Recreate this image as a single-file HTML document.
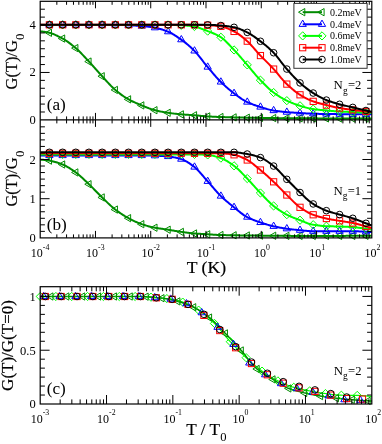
<!DOCTYPE html>
<html><head><meta charset="utf-8"><title>G(T) plot</title>
<style>html,body{margin:0;padding:0;background:#fff;}svg{display:block;will-change:transform;}text{font-family:"Liberation Serif",serif;}</style></head>
<body>
<svg width="382" height="444" viewBox="0 0 382 444">
<rect width="382" height="444" fill="#fff"/>
<g>
<polyline points="40.2,31.4 41.2,31.45 42.2,31.54 43.2,31.65 44.2,31.79 45.2,31.95 46.2,32.13 47.2,32.32 48.2,32.52 49.2,32.73 50.2,32.99 51.2,33.29 52.2,33.62 53.2,34 54.2,34.4 55.2,34.83 56.2,35.29 57.2,35.77 58.2,36.27 59.2,36.78 60.2,37.3 61.2,37.82 62.2,38.35 63.2,38.91 64.2,39.49 65.2,40.11 66.2,40.76 67.2,41.43 68.2,42.14 69.2,42.86 70.2,43.61 71.2,44.38 72.2,45.17 73.2,45.97 74.2,46.79 75.2,47.62 76.2,48.47 77.2,49.37 78.2,50.3 79.2,51.27 80.2,52.27 81.2,53.29 82.2,54.33 83.2,55.39 84.2,56.46 85.2,57.53 86.2,58.6 87.2,59.66 88.2,60.72 89.2,61.8 90.2,62.89 91.2,63.99 92.2,65.11 93.2,66.23 94.2,67.36 95.2,68.49 96.2,69.63 97.2,70.76 98.2,71.88 99.2,73 100.2,74.1 101.2,75.19 102.2,76.28 103.2,77.38 104.2,78.5 105.2,79.61 106.2,80.73 107.2,81.84 108.2,82.93 109.2,84.01 110.2,85.06 111.2,86.09 112.2,87.08 113.2,88.03 114.2,88.94 115.2,89.8 116.2,90.65 117.2,91.48 118.2,92.29 119.2,93.08 120.2,93.86 121.2,94.61 122.2,95.34 123.2,96.05 124.2,96.73 125.2,97.38 126.2,98.01 127.2,98.61 128.2,99.18 129.2,99.73 130.2,100.26 131.2,100.77 132.2,101.26 133.2,101.74 134.2,102.2 135.2,102.65 136.2,103.09 137.2,103.52 138.2,103.95 139.2,104.37 140.2,104.79 141.2,105.2 142.2,105.62 143.2,106.03 144.2,106.45 145.2,106.86 146.2,107.27 147.2,107.67 148.2,108.05 149.2,108.43 150.2,108.78 151.2,109.12 152.2,109.44 153.2,109.74 154.2,110.01 155.2,110.26 156.2,110.51 157.2,110.75 158.2,110.98 159.2,111.2 160.2,111.41 161.2,111.61 162.2,111.81 163.2,112 164.2,112.18 165.2,112.35 166.2,112.51 167.2,112.67 168.2,112.82 169.2,112.97 170.2,113.11 171.2,113.25 172.2,113.38 173.2,113.51 174.2,113.63 175.2,113.75 176.2,113.86 177.2,113.97 178.2,114.07 179.2,114.17 180.2,114.26 181.2,114.35 182.2,114.43 183.2,114.51 184.2,114.58 185.2,114.64 186.2,114.71 187.2,114.77 188.2,114.83 189.2,114.89 190.2,114.95 191.2,115.02 192.2,115.08 193.2,115.15 194.2,115.23 195.2,115.31 196.2,115.4 197.2,115.5 198.2,115.6 199.2,115.69 200.2,115.79 201.2,115.89 202.2,115.99 203.2,116.08 204.2,116.17 205.2,116.25 206.2,116.33 207.2,116.39 208.2,116.45 209.2,116.51 210.2,116.56 211.2,116.62 212.2,116.67 213.2,116.71 214.2,116.76 215.2,116.8 216.2,116.84 217.2,116.88 218.2,116.92 219.2,116.96 220.2,116.99 221.2,117.02 222.2,117.05 223.2,117.08 224.2,117.12 225.2,117.15 226.2,117.18 227.2,117.2 228.2,117.23 229.2,117.26 230.2,117.29 231.2,117.32 232.2,117.34 233.2,117.37 234.2,117.39 235.2,117.42 236.2,117.44 237.2,117.47 238.2,117.49 239.2,117.52 240.2,117.54 241.2,117.56 242.2,117.58 243.2,117.6 244.2,117.63 245.2,117.65 246.2,117.67 247.2,117.69 248.2,117.71 249.2,117.72 250.2,117.74 251.2,117.76 252.2,117.78 253.2,117.8 254.2,117.81 255.2,117.83 256.2,117.84 257.2,117.86 258.2,117.87 259.2,117.89 260.2,117.9 261.2,117.92 262.2,117.93 263.2,117.94 264.2,117.96 265.2,117.97 266.2,117.98 267.2,118 268.2,118.01 269.2,118.02 270.2,118.03 271.2,118.05 272.2,118.06 273.2,118.07 274.2,118.08 275.2,118.09 276.2,118.11 277.2,118.12 278.2,118.13 279.2,118.14 280.2,118.15 281.2,118.16 282.2,118.17 283.2,118.18 284.2,118.19 285.2,118.2 286.2,118.21 287.2,118.21 288.2,118.22 289.2,118.23 290.2,118.24 291.2,118.25 292.2,118.25 293.2,118.26 294.2,118.27 295.2,118.27 296.2,118.28 297.2,118.29 298.2,118.29 299.2,118.3 300.2,118.3 301.2,118.31 302.2,118.31 303.2,118.31 304.2,118.32 305.2,118.32 306.2,118.33 307.2,118.33 308.2,118.34 309.2,118.34 310.2,118.35 311.2,118.35 312.2,118.35 313.2,118.36 314.2,118.36 315.2,118.37 316.2,118.37 317.2,118.37 318.2,118.38 319.2,118.38 320.2,118.39 321.2,118.39 322.2,118.39 323.2,118.4 324.2,118.4 325.2,118.41 326.2,118.41 327.2,118.41 328.2,118.42 329.2,118.42 330.2,118.42 331.2,118.43 332.2,118.43 333.2,118.43 334.2,118.44 335.2,118.44 336.2,118.44 337.2,118.45 338.2,118.45 339.2,118.45 340.2,118.45 341.2,118.46 342.2,118.46 343.2,118.46 344.2,118.46 345.2,118.47 346.2,118.47 347.2,118.47 348.2,118.47 349.2,118.48 350.2,118.48 351.2,118.48 352.2,118.48 353.2,118.48 354.2,118.48 355.2,118.49 356.2,118.49 357.2,118.49 358.2,118.49 359.2,118.49 360.2,118.49 361.2,118.49 362.2,118.5 363.2,118.5 364.2,118.5 365.2,118.5 366.2,118.5 367.2,118.5 368.2,118.5 369.2,118.5 370.2,118.5 371.2,118.5 371.8,118.5" fill="none" stroke="#008b00" stroke-width="2.0" stroke-linejoin="round"/><path d="M45.2 32.78L51.5 29.14L51.5 36.42Z" fill="none" stroke="#008b00" stroke-width="1.0"/><path d="M58.39 38.56L64.69 34.93L64.69 42.2Z" fill="none" stroke="#008b00" stroke-width="1.0"/><path d="M71.58 48.11L77.88 44.47L77.88 51.74Z" fill="none" stroke="#008b00" stroke-width="1.0"/><path d="M84.77 61.55L91.07 57.91L91.07 65.19Z" fill="none" stroke="#008b00" stroke-width="1.0"/><path d="M97.96 76.24L104.26 72.6L104.26 79.87Z" fill="none" stroke="#008b00" stroke-width="1.0"/><path d="M111.15 89.93L117.45 86.29L117.45 93.57Z" fill="none" stroke="#008b00" stroke-width="1.0"/><path d="M124.34 99.37L130.64 95.73L130.64 103.01Z" fill="none" stroke="#008b00" stroke-width="1.0"/><path d="M137.53 105.42L143.83 101.78L143.83 109.06Z" fill="none" stroke="#008b00" stroke-width="1.0"/><path d="M150.72 110.19L157.02 106.55L157.02 113.83Z" fill="none" stroke="#008b00" stroke-width="1.0"/><path d="M163.91 112.81L170.21 109.17L170.21 116.44Z" fill="none" stroke="#008b00" stroke-width="1.0"/><path d="M177.1 114.36L183.4 110.72L183.4 118Z" fill="none" stroke="#008b00" stroke-width="1.0"/><path d="M190.29 115.25L196.59 111.62L196.59 118.89Z" fill="none" stroke="#008b00" stroke-width="1.0"/><path d="M203.48 116.42L209.78 112.79L209.78 120.06Z" fill="none" stroke="#008b00" stroke-width="1.0"/><path d="M216.67 117.01L222.97 113.37L222.97 120.65Z" fill="none" stroke="#008b00" stroke-width="1.0"/><path d="M229.86 117.39L236.16 113.75L236.16 121.03Z" fill="none" stroke="#008b00" stroke-width="1.0"/><path d="M243.05 117.69L249.35 114.05L249.35 121.32Z" fill="none" stroke="#008b00" stroke-width="1.0"/><path d="M256.24 117.91L262.54 114.27L262.54 121.54Z" fill="none" stroke="#008b00" stroke-width="1.0"/><path d="M269.43 118.08L275.73 114.44L275.73 121.71Z" fill="none" stroke="#008b00" stroke-width="1.0"/><path d="M282.62 118.21L288.92 114.57L288.92 121.85Z" fill="none" stroke="#008b00" stroke-width="1.0"/><path d="M295.81 118.3L302.11 114.66L302.11 121.94Z" fill="none" stroke="#008b00" stroke-width="1.0"/><path d="M309 118.36L315.3 114.72L315.3 122Z" fill="none" stroke="#008b00" stroke-width="1.0"/><path d="M322.19 118.41L328.49 114.77L328.49 122.05Z" fill="none" stroke="#008b00" stroke-width="1.0"/><path d="M335.38 118.45L341.68 114.81L341.68 122.09Z" fill="none" stroke="#008b00" stroke-width="1.0"/><path d="M348.57 118.48L354.87 114.85L354.87 122.12Z" fill="none" stroke="#008b00" stroke-width="1.0"/><path d="M361.76 118.5L368.06 114.86L368.06 122.14Z" fill="none" stroke="#008b00" stroke-width="1.0"/>
<polyline points="40.2,25 41.2,25 42.2,25 43.2,25 44.2,25 45.2,25 46.2,25 47.2,25 48.2,25 49.2,25 50.2,25 51.2,25 52.2,25 53.2,25 54.2,25 55.2,25 56.2,25 57.2,25 58.2,25 59.2,25 60.2,25 61.2,25 62.2,25 63.2,25 64.2,25 65.2,25 66.2,25 67.2,25 68.2,25 69.2,25 70.2,25 71.2,25 72.2,25 73.2,25 74.2,25 75.2,25 76.2,25 77.2,25 78.2,25 79.2,25 80.2,25 81.2,25 82.2,25 83.2,25 84.2,25 85.2,25 86.2,25 87.2,25 88.2,25 89.2,25 90.2,25 91.2,25 92.2,25 93.2,25 94.2,25 95.2,25 96.2,25 97.2,25 98.2,25 99.2,25 100.2,25 101.2,25 102.2,25 103.2,25 104.2,25 105.2,25 106.2,25 107.2,25 108.2,25 109.2,25 110.2,25 111.2,25 112.2,25 113.2,25 114.2,25 115.2,25 116.2,25 117.2,25 118.2,25 119.2,25 120.2,25.01 121.2,25.03 122.2,25.04 123.2,25.07 124.2,25.09 125.2,25.13 126.2,25.16 127.2,25.2 128.2,25.24 129.2,25.29 130.2,25.34 131.2,25.39 132.2,25.44 133.2,25.5 134.2,25.55 135.2,25.61 136.2,25.67 137.2,25.74 138.2,25.8 139.2,25.87 140.2,25.93 141.2,26 142.2,26.07 143.2,26.15 144.2,26.24 145.2,26.34 146.2,26.45 147.2,26.57 148.2,26.69 149.2,26.82 150.2,26.96 151.2,27.11 152.2,27.26 153.2,27.43 154.2,27.6 155.2,27.77 156.2,27.97 157.2,28.18 158.2,28.42 159.2,28.68 160.2,28.95 161.2,29.24 162.2,29.55 163.2,29.87 164.2,30.22 165.2,30.57 166.2,30.94 167.2,31.32 168.2,31.73 169.2,32.17 170.2,32.66 171.2,33.18 172.2,33.74 173.2,34.32 174.2,34.93 175.2,35.56 176.2,36.21 177.2,36.87 178.2,37.55 179.2,38.23 180.2,38.92 181.2,39.62 182.2,40.33 183.2,41.07 184.2,41.82 185.2,42.59 186.2,43.39 187.2,44.21 188.2,45.05 189.2,45.92 190.2,46.8 191.2,47.72 192.2,48.65 193.2,49.61 194.2,50.6 195.2,51.65 196.2,52.76 197.2,53.92 198.2,55.13 199.2,56.37 200.2,57.64 201.2,58.92 202.2,60.21 203.2,61.5 204.2,62.78 205.2,64.05 206.2,65.28 207.2,66.48 208.2,67.66 209.2,68.85 210.2,70.04 211.2,71.23 212.2,72.42 213.2,73.6 214.2,74.76 215.2,75.91 216.2,77.05 217.2,78.16 218.2,79.24 219.2,80.29 220.2,81.3 221.2,82.28 222.2,83.25 223.2,84.19 224.2,85.12 225.2,86.03 226.2,86.92 227.2,87.79 228.2,88.65 229.2,89.49 230.2,90.31 231.2,91.12 232.2,91.91 233.2,92.69 234.2,93.45 235.2,94.21 236.2,94.96 237.2,95.71 238.2,96.45 239.2,97.17 240.2,97.88 241.2,98.56 242.2,99.23 243.2,99.86 244.2,100.46 245.2,101.02 246.2,101.55 247.2,102.04 248.2,102.51 249.2,102.95 250.2,103.38 251.2,103.79 252.2,104.19 253.2,104.57 254.2,104.94 255.2,105.3 256.2,105.65 257.2,105.98 258.2,106.32 259.2,106.64 260.2,106.96 261.2,107.28 262.2,107.6 263.2,107.91 264.2,108.22 265.2,108.53 266.2,108.82 267.2,109.11 268.2,109.38 269.2,109.63 270.2,109.88 271.2,110.1 272.2,110.3 273.2,110.48 274.2,110.65 275.2,110.8 276.2,110.95 277.2,111.09 278.2,111.22 279.2,111.35 280.2,111.47 281.2,111.58 282.2,111.69 283.2,111.79 284.2,111.89 285.2,111.98 286.2,112.07 287.2,112.16 288.2,112.24 289.2,112.32 290.2,112.39 291.2,112.46 292.2,112.53 293.2,112.59 294.2,112.65 295.2,112.71 296.2,112.77 297.2,112.83 298.2,112.89 299.2,112.95 300.2,113.01 301.2,113.07 302.2,113.14 303.2,113.2 304.2,113.27 305.2,113.33 306.2,113.39 307.2,113.45 308.2,113.51 309.2,113.56 310.2,113.61 311.2,113.65 312.2,113.69 313.2,113.72 314.2,113.75 315.2,113.78 316.2,113.8 317.2,113.83 318.2,113.85 319.2,113.88 320.2,113.9 321.2,113.92 322.2,113.93 323.2,113.95 324.2,113.97 325.2,113.98 326.2,113.99 327.2,114.01 328.2,114.02 329.2,114.03 330.2,114.04 331.2,114.05 332.2,114.07 333.2,114.08 334.2,114.09 335.2,114.1 336.2,114.11 337.2,114.12 338.2,114.13 339.2,114.14 340.2,114.15 341.2,114.16 342.2,114.17 343.2,114.18 344.2,114.19 345.2,114.2 346.2,114.21 347.2,114.22 348.2,114.22 349.2,114.23 350.2,114.24 351.2,114.25 352.2,114.25 353.2,114.26 354.2,114.27 355.2,114.27 356.2,114.28 357.2,114.28 358.2,114.28 359.2,114.29 360.2,114.29 361.2,114.29 362.2,114.3 363.2,114.3 364.2,114.3 365.2,114.3 366.2,114.3 367.2,114.3 368.2,114.3 369.2,114.3 370.2,114.3 371.2,114.3 371.8,114.3" fill="none" stroke="#0000ff" stroke-width="2.0" stroke-linejoin="round"/><path d="M49.4 20.8L53.04 27.1L45.76 27.1Z" fill="none" stroke="#0000ff" stroke-width="1.0"/><path d="M62.59 20.8L66.23 27.1L58.95 27.1Z" fill="none" stroke="#0000ff" stroke-width="1.0"/><path d="M75.78 20.8L79.42 27.1L72.14 27.1Z" fill="none" stroke="#0000ff" stroke-width="1.0"/><path d="M88.97 20.8L92.61 27.1L85.33 27.1Z" fill="none" stroke="#0000ff" stroke-width="1.0"/><path d="M102.16 20.8L105.8 27.1L98.52 27.1Z" fill="none" stroke="#0000ff" stroke-width="1.0"/><path d="M115.35 20.8L118.99 27.1L111.71 27.1Z" fill="none" stroke="#0000ff" stroke-width="1.0"/><path d="M128.54 21.06L132.18 27.36L124.9 27.36Z" fill="none" stroke="#0000ff" stroke-width="1.0"/><path d="M141.73 21.84L145.37 28.14L138.09 28.14Z" fill="none" stroke="#0000ff" stroke-width="1.0"/><path d="M154.92 23.52L158.56 29.82L151.28 29.82Z" fill="none" stroke="#0000ff" stroke-width="1.0"/><path d="M168.11 27.49L171.75 33.79L164.47 33.79Z" fill="none" stroke="#0000ff" stroke-width="1.0"/><path d="M181.3 35.49L184.94 41.79L177.66 41.79Z" fill="none" stroke="#0000ff" stroke-width="1.0"/><path d="M194.49 46.7L198.13 53L190.85 53Z" fill="none" stroke="#0000ff" stroke-width="1.0"/><path d="M207.68 62.85L211.32 69.15L204.04 69.15Z" fill="none" stroke="#0000ff" stroke-width="1.0"/><path d="M220.87 77.76L224.51 84.06L217.23 84.06Z" fill="none" stroke="#0000ff" stroke-width="1.0"/><path d="M234.06 89.15L237.7 95.45L230.42 95.45Z" fill="none" stroke="#0000ff" stroke-width="1.0"/><path d="M247.25 97.86L250.89 104.16L243.61 104.16Z" fill="none" stroke="#0000ff" stroke-width="1.0"/><path d="M260.44 102.84L264.08 109.14L256.8 109.14Z" fill="none" stroke="#0000ff" stroke-width="1.0"/><path d="M273.63 106.35L277.27 112.65L269.99 112.65Z" fill="none" stroke="#0000ff" stroke-width="1.0"/><path d="M286.82 107.93L290.46 114.23L283.18 114.23Z" fill="none" stroke="#0000ff" stroke-width="1.0"/><path d="M300.01 108.8L303.65 115.1L296.37 115.1Z" fill="none" stroke="#0000ff" stroke-width="1.0"/><path d="M313.2 109.52L316.84 115.82L309.56 115.82Z" fill="none" stroke="#0000ff" stroke-width="1.0"/><path d="M326.39 109.8L330.03 116.1L322.75 116.1Z" fill="none" stroke="#0000ff" stroke-width="1.0"/><path d="M339.58 109.95L343.22 116.25L335.94 116.25Z" fill="none" stroke="#0000ff" stroke-width="1.0"/><path d="M352.77 110.06L356.41 116.36L349.13 116.36Z" fill="none" stroke="#0000ff" stroke-width="1.0"/><path d="M365.96 110.1L369.6 116.4L362.32 116.4Z" fill="none" stroke="#0000ff" stroke-width="1.0"/>
<polyline points="40.2,24.9 41.2,24.9 42.2,24.9 43.2,24.9 44.2,24.9 45.2,24.9 46.2,24.9 47.2,24.9 48.2,24.9 49.2,24.9 50.2,24.9 51.2,24.9 52.2,24.9 53.2,24.9 54.2,24.9 55.2,24.9 56.2,24.9 57.2,24.9 58.2,24.9 59.2,24.9 60.2,24.9 61.2,24.9 62.2,24.9 63.2,24.9 64.2,24.9 65.2,24.9 66.2,24.9 67.2,24.9 68.2,24.9 69.2,24.9 70.2,24.9 71.2,24.9 72.2,24.9 73.2,24.9 74.2,24.9 75.2,24.9 76.2,24.9 77.2,24.9 78.2,24.9 79.2,24.9 80.2,24.9 81.2,24.9 82.2,24.9 83.2,24.9 84.2,24.9 85.2,24.9 86.2,24.9 87.2,24.9 88.2,24.9 89.2,24.9 90.2,24.9 91.2,24.9 92.2,24.9 93.2,24.9 94.2,24.9 95.2,24.9 96.2,24.9 97.2,24.9 98.2,24.9 99.2,24.9 100.2,24.9 101.2,24.9 102.2,24.9 103.2,24.9 104.2,24.9 105.2,24.9 106.2,24.9 107.2,24.9 108.2,24.9 109.2,24.9 110.2,24.9 111.2,24.9 112.2,24.9 113.2,24.9 114.2,24.9 115.2,24.9 116.2,24.9 117.2,24.9 118.2,24.9 119.2,24.9 120.2,24.9 121.2,24.9 122.2,24.9 123.2,24.9 124.2,24.9 125.2,24.9 126.2,24.9 127.2,24.9 128.2,24.9 129.2,24.9 130.2,24.9 131.2,24.9 132.2,24.9 133.2,24.9 134.2,24.9 135.2,24.9 136.2,24.9 137.2,24.9 138.2,24.9 139.2,24.9 140.2,24.9 141.2,24.9 142.2,24.9 143.2,24.9 144.2,24.9 145.2,24.9 146.2,24.9 147.2,24.9 148.2,24.9 149.2,24.9 150.2,24.9 151.2,24.9 152.2,24.9 153.2,24.9 154.2,24.9 155.2,24.9 156.2,24.9 157.2,24.9 158.2,24.9 159.2,24.9 160.2,24.9 161.2,24.9 162.2,24.9 163.2,24.9 164.2,24.9 165.2,24.9 166.2,24.9 167.2,24.9 168.2,24.9 169.2,24.92 170.2,24.93 171.2,24.95 172.2,24.98 173.2,25.01 174.2,25.04 175.2,25.08 176.2,25.11 177.2,25.15 178.2,25.2 179.2,25.24 180.2,25.28 181.2,25.33 182.2,25.37 183.2,25.43 184.2,25.49 185.2,25.55 186.2,25.62 187.2,25.7 188.2,25.78 189.2,25.87 190.2,25.97 191.2,26.07 192.2,26.19 193.2,26.31 194.2,26.47 195.2,26.67 196.2,26.92 197.2,27.2 198.2,27.51 199.2,27.84 200.2,28.2 201.2,28.58 202.2,28.97 203.2,29.36 204.2,29.76 205.2,30.16 206.2,30.55 207.2,30.93 208.2,31.31 209.2,31.69 210.2,32.07 211.2,32.47 212.2,32.87 213.2,33.29 214.2,33.72 215.2,34.17 216.2,34.65 217.2,35.15 218.2,35.67 219.2,36.23 220.2,36.82 221.2,37.45 222.2,38.17 223.2,38.96 224.2,39.81 225.2,40.73 226.2,41.69 227.2,42.69 228.2,43.72 229.2,44.78 230.2,45.85 231.2,46.93 232.2,48 233.2,49.06 234.2,50.11 235.2,51.16 236.2,52.24 237.2,53.33 238.2,54.45 239.2,55.58 240.2,56.72 241.2,57.87 242.2,59.03 243.2,60.18 244.2,61.34 245.2,62.5 246.2,63.66 247.2,64.81 248.2,65.98 249.2,67.17 250.2,68.37 251.2,69.57 252.2,70.78 253.2,71.99 254.2,73.18 255.2,74.36 256.2,75.53 257.2,76.67 258.2,77.79 259.2,78.87 260.2,79.92 261.2,80.97 262.2,82.01 263.2,83.04 264.2,84.06 265.2,85.07 266.2,86.06 267.2,87.03 268.2,87.98 269.2,88.89 270.2,89.78 271.2,90.63 272.2,91.45 273.2,92.22 274.2,92.97 275.2,93.69 276.2,94.4 277.2,95.09 278.2,95.75 279.2,96.4 280.2,97.03 281.2,97.64 282.2,98.22 283.2,98.79 284.2,99.33 285.2,99.85 286.2,100.35 287.2,100.83 288.2,101.3 289.2,101.75 290.2,102.19 291.2,102.61 292.2,103.02 293.2,103.42 294.2,103.81 295.2,104.18 296.2,104.54 297.2,104.89 298.2,105.22 299.2,105.55 300.2,105.86 301.2,106.17 302.2,106.48 303.2,106.78 304.2,107.07 305.2,107.36 306.2,107.63 307.2,107.9 308.2,108.15 309.2,108.38 310.2,108.59 311.2,108.78 312.2,108.95 313.2,109.1 314.2,109.24 315.2,109.37 316.2,109.49 317.2,109.61 318.2,109.72 319.2,109.82 320.2,109.92 321.2,110.01 322.2,110.1 323.2,110.19 324.2,110.28 325.2,110.37 326.2,110.46 327.2,110.55 328.2,110.64 329.2,110.72 330.2,110.81 331.2,110.9 332.2,110.99 333.2,111.07 334.2,111.15 335.2,111.23 336.2,111.3 337.2,111.37 338.2,111.43 339.2,111.49 340.2,111.55 341.2,111.6 342.2,111.65 343.2,111.7 344.2,111.74 345.2,111.79 346.2,111.83 347.2,111.87 348.2,111.91 349.2,111.95 350.2,111.99 351.2,112.03 352.2,112.07 353.2,112.12 354.2,112.16 355.2,112.21 356.2,112.26 357.2,112.31 358.2,112.35 359.2,112.4 360.2,112.45 361.2,112.49 362.2,112.54 363.2,112.58 364.2,112.63 365.2,112.67 366.2,112.71 367.2,112.75 368.2,112.78 369.2,112.82 370.2,112.85 371.2,112.88 371.8,112.9" fill="none" stroke="#00ff00" stroke-width="2.0" stroke-linejoin="round"/><path d="M45.3 24.9L49.4 20.8L53.5 24.9L49.4 29Z" fill="none" stroke="#00ff00" stroke-width="1.0"/><path d="M58.49 24.9L62.59 20.8L66.69 24.9L62.59 29Z" fill="none" stroke="#00ff00" stroke-width="1.0"/><path d="M71.68 24.9L75.78 20.8L79.88 24.9L75.78 29Z" fill="none" stroke="#00ff00" stroke-width="1.0"/><path d="M84.87 24.9L88.97 20.8L93.07 24.9L88.97 29Z" fill="none" stroke="#00ff00" stroke-width="1.0"/><path d="M98.06 24.9L102.16 20.8L106.26 24.9L102.16 29Z" fill="none" stroke="#00ff00" stroke-width="1.0"/><path d="M111.25 24.9L115.35 20.8L119.45 24.9L115.35 29Z" fill="none" stroke="#00ff00" stroke-width="1.0"/><path d="M124.44 24.9L128.54 20.8L132.64 24.9L128.54 29Z" fill="none" stroke="#00ff00" stroke-width="1.0"/><path d="M137.63 24.9L141.73 20.8L145.83 24.9L141.73 29Z" fill="none" stroke="#00ff00" stroke-width="1.0"/><path d="M150.82 24.9L154.92 20.8L159.02 24.9L154.92 29Z" fill="none" stroke="#00ff00" stroke-width="1.0"/><path d="M164.01 24.9L168.11 20.8L172.21 24.9L168.11 29Z" fill="none" stroke="#00ff00" stroke-width="1.0"/><path d="M177.2 25.33L181.3 21.23L185.4 25.33L181.3 29.43Z" fill="none" stroke="#00ff00" stroke-width="1.0"/><path d="M190.39 26.52L194.49 22.42L198.59 26.52L194.49 30.62Z" fill="none" stroke="#00ff00" stroke-width="1.0"/><path d="M203.58 31.11L207.68 27.01L211.78 31.11L207.68 35.21Z" fill="none" stroke="#00ff00" stroke-width="1.0"/><path d="M216.77 37.23L220.87 33.13L224.97 37.23L220.87 41.33Z" fill="none" stroke="#00ff00" stroke-width="1.0"/><path d="M229.96 49.96L234.06 45.86L238.16 49.96L234.06 54.06Z" fill="none" stroke="#00ff00" stroke-width="1.0"/><path d="M243.15 64.87L247.25 60.77L251.35 64.87L247.25 68.97Z" fill="none" stroke="#00ff00" stroke-width="1.0"/><path d="M256.34 80.17L260.44 76.07L264.54 80.17L260.44 84.27Z" fill="none" stroke="#00ff00" stroke-width="1.0"/><path d="M269.53 92.55L273.63 88.45L277.73 92.55L273.63 96.65Z" fill="none" stroke="#00ff00" stroke-width="1.0"/><path d="M282.72 100.65L286.82 96.55L290.92 100.65L286.82 104.75Z" fill="none" stroke="#00ff00" stroke-width="1.0"/><path d="M295.91 105.8L300.01 101.7L304.11 105.8L300.01 109.9Z" fill="none" stroke="#00ff00" stroke-width="1.0"/><path d="M309.1 109.1L313.2 105L317.3 109.1L313.2 113.2Z" fill="none" stroke="#00ff00" stroke-width="1.0"/><path d="M322.29 110.47L326.39 106.37L330.49 110.47L326.39 114.57Z" fill="none" stroke="#00ff00" stroke-width="1.0"/><path d="M335.48 111.52L339.58 107.42L343.68 111.52L339.58 115.62Z" fill="none" stroke="#00ff00" stroke-width="1.0"/><path d="M348.67 112.1L352.77 108L356.87 112.1L352.77 116.2Z" fill="none" stroke="#00ff00" stroke-width="1.0"/><path d="M361.86 112.7L365.96 108.6L370.06 112.7L365.96 116.8Z" fill="none" stroke="#00ff00" stroke-width="1.0"/>
<polyline points="40.2,24.8 41.2,24.8 42.2,24.8 43.2,24.8 44.2,24.8 45.2,24.8 46.2,24.8 47.2,24.8 48.2,24.8 49.2,24.8 50.2,24.8 51.2,24.8 52.2,24.8 53.2,24.8 54.2,24.8 55.2,24.8 56.2,24.8 57.2,24.8 58.2,24.8 59.2,24.8 60.2,24.8 61.2,24.8 62.2,24.8 63.2,24.8 64.2,24.8 65.2,24.8 66.2,24.8 67.2,24.8 68.2,24.8 69.2,24.8 70.2,24.8 71.2,24.8 72.2,24.8 73.2,24.8 74.2,24.8 75.2,24.8 76.2,24.8 77.2,24.8 78.2,24.8 79.2,24.8 80.2,24.8 81.2,24.8 82.2,24.8 83.2,24.8 84.2,24.8 85.2,24.8 86.2,24.8 87.2,24.8 88.2,24.8 89.2,24.8 90.2,24.8 91.2,24.8 92.2,24.8 93.2,24.8 94.2,24.8 95.2,24.8 96.2,24.8 97.2,24.8 98.2,24.8 99.2,24.8 100.2,24.8 101.2,24.8 102.2,24.8 103.2,24.8 104.2,24.8 105.2,24.8 106.2,24.8 107.2,24.8 108.2,24.8 109.2,24.8 110.2,24.8 111.2,24.8 112.2,24.8 113.2,24.8 114.2,24.8 115.2,24.8 116.2,24.8 117.2,24.8 118.2,24.8 119.2,24.8 120.2,24.8 121.2,24.8 122.2,24.8 123.2,24.8 124.2,24.8 125.2,24.8 126.2,24.8 127.2,24.8 128.2,24.8 129.2,24.8 130.2,24.8 131.2,24.8 132.2,24.8 133.2,24.8 134.2,24.8 135.2,24.8 136.2,24.8 137.2,24.8 138.2,24.8 139.2,24.8 140.2,24.8 141.2,24.8 142.2,24.8 143.2,24.8 144.2,24.8 145.2,24.8 146.2,24.8 147.2,24.8 148.2,24.8 149.2,24.8 150.2,24.8 151.2,24.8 152.2,24.8 153.2,24.8 154.2,24.8 155.2,24.8 156.2,24.8 157.2,24.8 158.2,24.8 159.2,24.8 160.2,24.8 161.2,24.8 162.2,24.8 163.2,24.8 164.2,24.8 165.2,24.8 166.2,24.8 167.2,24.8 168.2,24.8 169.2,24.8 170.2,24.8 171.2,24.8 172.2,24.8 173.2,24.8 174.2,24.8 175.2,24.8 176.2,24.8 177.2,24.8 178.2,24.8 179.2,24.8 180.2,24.8 181.2,24.8 182.2,24.8 183.2,24.8 184.2,24.8 185.2,24.8 186.2,24.8 187.2,24.8 188.2,24.8 189.2,24.8 190.2,24.8 191.2,24.8 192.2,24.8 193.2,24.8 194.2,24.8 195.2,24.81 196.2,24.82 197.2,24.84 198.2,24.86 199.2,24.88 200.2,24.91 201.2,24.95 202.2,24.99 203.2,25.02 204.2,25.07 205.2,25.11 206.2,25.15 207.2,25.2 208.2,25.24 209.2,25.29 210.2,25.35 211.2,25.41 212.2,25.47 213.2,25.54 214.2,25.62 215.2,25.71 216.2,25.8 217.2,25.9 218.2,26.01 219.2,26.13 220.2,26.26 221.2,26.41 222.2,26.61 223.2,26.85 224.2,27.14 225.2,27.46 226.2,27.82 227.2,28.22 228.2,28.64 229.2,29.08 230.2,29.54 231.2,30.02 232.2,30.51 233.2,31 234.2,31.5 235.2,32.03 236.2,32.62 237.2,33.24 238.2,33.9 239.2,34.6 240.2,35.33 241.2,36.1 242.2,36.89 243.2,37.7 244.2,38.53 245.2,39.38 246.2,40.24 247.2,41.13 248.2,42.07 249.2,43.07 250.2,44.12 251.2,45.21 252.2,46.32 253.2,47.46 254.2,48.61 255.2,49.77 256.2,50.92 257.2,52.06 258.2,53.18 259.2,54.27 260.2,55.32 261.2,56.36 262.2,57.38 263.2,58.4 264.2,59.4 265.2,60.4 266.2,61.4 267.2,62.4 268.2,63.41 269.2,64.42 270.2,65.44 271.2,66.48 272.2,67.52 273.2,68.59 274.2,69.69 275.2,70.83 276.2,72 277.2,73.19 278.2,74.4 279.2,75.61 280.2,76.82 281.2,78.02 282.2,79.2 283.2,80.34 284.2,81.45 285.2,82.51 286.2,83.51 287.2,84.46 288.2,85.4 289.2,86.32 290.2,87.23 291.2,88.11 292.2,88.98 293.2,89.82 294.2,90.64 295.2,91.43 296.2,92.19 297.2,92.92 298.2,93.62 299.2,94.29 300.2,94.92 301.2,95.53 302.2,96.13 303.2,96.7 304.2,97.26 305.2,97.8 306.2,98.32 307.2,98.82 308.2,99.3 309.2,99.75 310.2,100.19 311.2,100.6 312.2,100.99 313.2,101.35 314.2,101.7 315.2,102.04 316.2,102.36 317.2,102.67 318.2,102.96 319.2,103.25 320.2,103.53 321.2,103.8 322.2,104.06 323.2,104.32 324.2,104.57 325.2,104.82 326.2,105.07 327.2,105.33 328.2,105.57 329.2,105.82 330.2,106.06 331.2,106.3 332.2,106.54 333.2,106.77 334.2,106.99 335.2,107.21 336.2,107.41 337.2,107.61 338.2,107.8 339.2,107.98 340.2,108.15 341.2,108.31 342.2,108.47 343.2,108.62 344.2,108.77 345.2,108.91 346.2,109.04 347.2,109.18 348.2,109.31 349.2,109.44 350.2,109.56 351.2,109.69 352.2,109.82 353.2,109.95 354.2,110.08 355.2,110.21 356.2,110.34 357.2,110.46 358.2,110.59 359.2,110.71 360.2,110.83 361.2,110.95 362.2,111.07 363.2,111.18 364.2,111.3 365.2,111.41 366.2,111.52 367.2,111.63 368.2,111.74 369.2,111.84 370.2,111.94 371.2,112.04 371.8,112.1" fill="none" stroke="#ff0000" stroke-width="2.0" stroke-linejoin="round"/><rect x="46.3" y="21.7" width="6.2" height="6.2" fill="none" stroke="#ff0000" stroke-width="1.0"/><rect x="59.49" y="21.7" width="6.2" height="6.2" fill="none" stroke="#ff0000" stroke-width="1.0"/><rect x="72.68" y="21.7" width="6.2" height="6.2" fill="none" stroke="#ff0000" stroke-width="1.0"/><rect x="85.87" y="21.7" width="6.2" height="6.2" fill="none" stroke="#ff0000" stroke-width="1.0"/><rect x="99.06" y="21.7" width="6.2" height="6.2" fill="none" stroke="#ff0000" stroke-width="1.0"/><rect x="112.25" y="21.7" width="6.2" height="6.2" fill="none" stroke="#ff0000" stroke-width="1.0"/><rect x="125.44" y="21.7" width="6.2" height="6.2" fill="none" stroke="#ff0000" stroke-width="1.0"/><rect x="138.63" y="21.7" width="6.2" height="6.2" fill="none" stroke="#ff0000" stroke-width="1.0"/><rect x="151.82" y="21.7" width="6.2" height="6.2" fill="none" stroke="#ff0000" stroke-width="1.0"/><rect x="165.01" y="21.7" width="6.2" height="6.2" fill="none" stroke="#ff0000" stroke-width="1.0"/><rect x="178.2" y="21.7" width="6.2" height="6.2" fill="none" stroke="#ff0000" stroke-width="1.0"/><rect x="191.39" y="21.7" width="6.2" height="6.2" fill="none" stroke="#ff0000" stroke-width="1.0"/><rect x="204.58" y="22.12" width="6.2" height="6.2" fill="none" stroke="#ff0000" stroke-width="1.0"/><rect x="217.77" y="23.25" width="6.2" height="6.2" fill="none" stroke="#ff0000" stroke-width="1.0"/><rect x="230.96" y="28.33" width="6.2" height="6.2" fill="none" stroke="#ff0000" stroke-width="1.0"/><rect x="244.15" y="38.07" width="6.2" height="6.2" fill="none" stroke="#ff0000" stroke-width="1.0"/><rect x="257.34" y="52.47" width="6.2" height="6.2" fill="none" stroke="#ff0000" stroke-width="1.0"/><rect x="270.53" y="65.96" width="6.2" height="6.2" fill="none" stroke="#ff0000" stroke-width="1.0"/><rect x="283.72" y="81" width="6.2" height="6.2" fill="none" stroke="#ff0000" stroke-width="1.0"/><rect x="296.91" y="91.71" width="6.2" height="6.2" fill="none" stroke="#ff0000" stroke-width="1.0"/><rect x="310.1" y="98.25" width="6.2" height="6.2" fill="none" stroke="#ff0000" stroke-width="1.0"/><rect x="323.29" y="102.02" width="6.2" height="6.2" fill="none" stroke="#ff0000" stroke-width="1.0"/><rect x="336.48" y="104.95" width="6.2" height="6.2" fill="none" stroke="#ff0000" stroke-width="1.0"/><rect x="349.67" y="106.8" width="6.2" height="6.2" fill="none" stroke="#ff0000" stroke-width="1.0"/><rect x="362.86" y="108.4" width="6.2" height="6.2" fill="none" stroke="#ff0000" stroke-width="1.0"/>
<polyline points="40.2,24.8 41.2,24.8 42.2,24.8 43.2,24.8 44.2,24.8 45.2,24.8 46.2,24.8 47.2,24.8 48.2,24.8 49.2,24.8 50.2,24.8 51.2,24.8 52.2,24.8 53.2,24.8 54.2,24.8 55.2,24.8 56.2,24.8 57.2,24.8 58.2,24.8 59.2,24.8 60.2,24.8 61.2,24.8 62.2,24.8 63.2,24.8 64.2,24.8 65.2,24.8 66.2,24.8 67.2,24.8 68.2,24.8 69.2,24.8 70.2,24.8 71.2,24.8 72.2,24.8 73.2,24.8 74.2,24.8 75.2,24.8 76.2,24.8 77.2,24.8 78.2,24.8 79.2,24.8 80.2,24.8 81.2,24.8 82.2,24.8 83.2,24.8 84.2,24.8 85.2,24.8 86.2,24.8 87.2,24.8 88.2,24.8 89.2,24.8 90.2,24.8 91.2,24.8 92.2,24.8 93.2,24.8 94.2,24.8 95.2,24.8 96.2,24.8 97.2,24.8 98.2,24.8 99.2,24.8 100.2,24.8 101.2,24.8 102.2,24.8 103.2,24.8 104.2,24.8 105.2,24.8 106.2,24.8 107.2,24.8 108.2,24.8 109.2,24.8 110.2,24.8 111.2,24.8 112.2,24.8 113.2,24.8 114.2,24.8 115.2,24.8 116.2,24.8 117.2,24.8 118.2,24.8 119.2,24.8 120.2,24.8 121.2,24.8 122.2,24.8 123.2,24.8 124.2,24.8 125.2,24.8 126.2,24.8 127.2,24.8 128.2,24.8 129.2,24.8 130.2,24.8 131.2,24.8 132.2,24.8 133.2,24.8 134.2,24.8 135.2,24.8 136.2,24.8 137.2,24.8 138.2,24.8 139.2,24.8 140.2,24.8 141.2,24.8 142.2,24.8 143.2,24.8 144.2,24.8 145.2,24.8 146.2,24.8 147.2,24.8 148.2,24.8 149.2,24.8 150.2,24.8 151.2,24.8 152.2,24.8 153.2,24.8 154.2,24.8 155.2,24.8 156.2,24.8 157.2,24.8 158.2,24.8 159.2,24.8 160.2,24.8 161.2,24.8 162.2,24.8 163.2,24.8 164.2,24.8 165.2,24.8 166.2,24.8 167.2,24.8 168.2,24.8 169.2,24.8 170.2,24.8 171.2,24.8 172.2,24.8 173.2,24.8 174.2,24.8 175.2,24.8 176.2,24.8 177.2,24.8 178.2,24.8 179.2,24.8 180.2,24.8 181.2,24.8 182.2,24.8 183.2,24.8 184.2,24.8 185.2,24.8 186.2,24.8 187.2,24.8 188.2,24.8 189.2,24.8 190.2,24.8 191.2,24.8 192.2,24.8 193.2,24.8 194.2,24.8 195.2,24.8 196.2,24.8 197.2,24.8 198.2,24.8 199.2,24.8 200.2,24.8 201.2,24.8 202.2,24.8 203.2,24.8 204.2,24.8 205.2,24.8 206.2,24.8 207.2,24.8 208.2,24.8 209.2,24.82 210.2,24.85 211.2,24.89 212.2,24.93 213.2,24.98 214.2,25.04 215.2,25.11 216.2,25.18 217.2,25.25 218.2,25.32 219.2,25.4 220.2,25.48 221.2,25.55 222.2,25.64 223.2,25.73 224.2,25.83 225.2,25.94 226.2,26.06 227.2,26.19 228.2,26.32 229.2,26.47 230.2,26.62 231.2,26.79 232.2,26.96 233.2,27.14 234.2,27.34 235.2,27.57 236.2,27.83 237.2,28.13 238.2,28.45 239.2,28.81 240.2,29.19 241.2,29.6 242.2,30.02 243.2,30.46 244.2,30.92 245.2,31.38 246.2,31.86 247.2,32.34 248.2,32.87 249.2,33.43 250.2,34.03 251.2,34.65 252.2,35.3 253.2,35.98 254.2,36.67 255.2,37.39 256.2,38.11 257.2,38.85 258.2,39.6 259.2,40.35 260.2,41.1 261.2,41.86 262.2,42.63 263.2,43.41 264.2,44.21 265.2,45.02 266.2,45.85 267.2,46.7 268.2,47.58 269.2,48.47 270.2,49.39 271.2,50.33 272.2,51.3 273.2,52.3 274.2,53.35 275.2,54.46 276.2,55.64 277.2,56.87 278.2,58.14 279.2,59.43 280.2,60.75 281.2,62.06 282.2,63.38 283.2,64.67 284.2,65.94 285.2,67.17 286.2,68.36 287.2,69.5 288.2,70.63 289.2,71.76 290.2,72.87 291.2,73.98 292.2,75.08 293.2,76.16 294.2,77.22 295.2,78.26 296.2,79.28 297.2,80.28 298.2,81.24 299.2,82.18 300.2,83.08 301.2,83.96 302.2,84.82 303.2,85.67 304.2,86.5 305.2,87.32 306.2,88.11 307.2,88.88 308.2,89.63 309.2,90.36 310.2,91.07 311.2,91.75 312.2,92.41 313.2,93.04 314.2,93.67 315.2,94.28 316.2,94.88 317.2,95.47 318.2,96.05 319.2,96.61 320.2,97.15 321.2,97.67 322.2,98.18 323.2,98.67 324.2,99.13 325.2,99.58 326.2,100 327.2,100.4 328.2,100.78 329.2,101.14 330.2,101.49 331.2,101.82 332.2,102.15 333.2,102.46 334.2,102.76 335.2,103.05 336.2,103.34 337.2,103.62 338.2,103.9 339.2,104.17 340.2,104.44 341.2,104.7 342.2,104.95 343.2,105.19 344.2,105.43 345.2,105.67 346.2,105.89 347.2,106.12 348.2,106.35 349.2,106.57 350.2,106.8 351.2,107.03 352.2,107.26 353.2,107.49 354.2,107.73 355.2,107.97 356.2,108.21 357.2,108.45 358.2,108.69 359.2,108.93 360.2,109.17 361.2,109.41 362.2,109.64 363.2,109.87 364.2,110.1 365.2,110.32 366.2,110.54 367.2,110.76 368.2,110.97 369.2,111.18 370.2,111.38 371.2,111.58 371.8,111.7" fill="none" stroke="#000000" stroke-width="2.0" stroke-linejoin="round"/><circle cx="49.4" cy="24.8" r="3.3" fill="none" stroke="#000000" stroke-width="1.0"/><circle cx="62.59" cy="24.8" r="3.3" fill="none" stroke="#000000" stroke-width="1.0"/><circle cx="75.78" cy="24.8" r="3.3" fill="none" stroke="#000000" stroke-width="1.0"/><circle cx="88.97" cy="24.8" r="3.3" fill="none" stroke="#000000" stroke-width="1.0"/><circle cx="102.16" cy="24.8" r="3.3" fill="none" stroke="#000000" stroke-width="1.0"/><circle cx="115.35" cy="24.8" r="3.3" fill="none" stroke="#000000" stroke-width="1.0"/><circle cx="128.54" cy="24.8" r="3.3" fill="none" stroke="#000000" stroke-width="1.0"/><circle cx="141.73" cy="24.8" r="3.3" fill="none" stroke="#000000" stroke-width="1.0"/><circle cx="154.92" cy="24.8" r="3.3" fill="none" stroke="#000000" stroke-width="1.0"/><circle cx="168.11" cy="24.8" r="3.3" fill="none" stroke="#000000" stroke-width="1.0"/><circle cx="181.3" cy="24.8" r="3.3" fill="none" stroke="#000000" stroke-width="1.0"/><circle cx="194.49" cy="24.8" r="3.3" fill="none" stroke="#000000" stroke-width="1.0"/><circle cx="207.68" cy="24.8" r="3.3" fill="none" stroke="#000000" stroke-width="1.0"/><circle cx="220.87" cy="25.53" r="3.3" fill="none" stroke="#000000" stroke-width="1.0"/><circle cx="234.06" cy="27.31" r="3.3" fill="none" stroke="#000000" stroke-width="1.0"/><circle cx="247.25" cy="32.37" r="3.3" fill="none" stroke="#000000" stroke-width="1.0"/><circle cx="260.44" cy="41.28" r="3.3" fill="none" stroke="#000000" stroke-width="1.0"/><circle cx="273.63" cy="52.74" r="3.3" fill="none" stroke="#000000" stroke-width="1.0"/><circle cx="286.82" cy="69.06" r="3.3" fill="none" stroke="#000000" stroke-width="1.0"/><circle cx="300.01" cy="82.91" r="3.3" fill="none" stroke="#000000" stroke-width="1.0"/><circle cx="313.2" cy="93.04" r="3.3" fill="none" stroke="#000000" stroke-width="1.0"/><circle cx="326.39" cy="100.08" r="3.3" fill="none" stroke="#000000" stroke-width="1.0"/><circle cx="339.58" cy="104.28" r="3.3" fill="none" stroke="#000000" stroke-width="1.0"/><circle cx="352.77" cy="107.39" r="3.3" fill="none" stroke="#000000" stroke-width="1.0"/><circle cx="365.96" cy="110.49" r="3.3" fill="none" stroke="#000000" stroke-width="1.0"/>
</g>
<g>
<polyline points="40.2,159.6 41.2,159.65 42.2,159.72 43.2,159.81 44.2,159.91 45.2,160.03 46.2,160.16 47.2,160.3 48.2,160.44 49.2,160.59 50.2,160.77 51.2,160.97 52.2,161.19 53.2,161.43 54.2,161.69 55.2,161.97 56.2,162.26 57.2,162.57 58.2,162.9 59.2,163.24 60.2,163.59 61.2,163.96 62.2,164.34 63.2,164.75 64.2,165.2 65.2,165.69 66.2,166.21 67.2,166.77 68.2,167.36 69.2,167.97 70.2,168.61 71.2,169.26 72.2,169.94 73.2,170.63 74.2,171.32 75.2,172.03 76.2,172.76 77.2,173.52 78.2,174.33 79.2,175.17 80.2,176.04 81.2,176.93 82.2,177.84 83.2,178.77 84.2,179.7 85.2,180.65 86.2,181.59 87.2,182.54 88.2,183.48 89.2,184.43 90.2,185.41 91.2,186.4 92.2,187.41 93.2,188.42 94.2,189.44 95.2,190.47 96.2,191.49 97.2,192.51 98.2,193.53 99.2,194.54 100.2,195.53 101.2,196.5 102.2,197.47 103.2,198.45 104.2,199.44 105.2,200.42 106.2,201.41 107.2,202.38 108.2,203.35 109.2,204.3 110.2,205.23 111.2,206.13 112.2,207.01 113.2,207.86 114.2,208.66 115.2,209.44 116.2,210.2 117.2,210.94 118.2,211.67 119.2,212.38 120.2,213.07 121.2,213.74 122.2,214.4 123.2,215.04 124.2,215.66 125.2,216.27 126.2,216.85 127.2,217.42 128.2,217.97 129.2,218.52 130.2,219.05 131.2,219.57 132.2,220.08 133.2,220.58 134.2,221.07 135.2,221.54 136.2,222 137.2,222.44 138.2,222.86 139.2,223.26 140.2,223.64 141.2,224 142.2,224.34 143.2,224.67 144.2,225 145.2,225.31 146.2,225.61 147.2,225.9 148.2,226.18 149.2,226.44 150.2,226.7 151.2,226.94 152.2,227.16 153.2,227.38 154.2,227.58 155.2,227.77 156.2,227.94 157.2,228.11 158.2,228.26 159.2,228.41 160.2,228.56 161.2,228.7 162.2,228.84 163.2,228.98 164.2,229.12 165.2,229.26 166.2,229.41 167.2,229.57 168.2,229.73 169.2,229.9 170.2,230.07 171.2,230.24 172.2,230.42 173.2,230.59 174.2,230.77 175.2,230.94 176.2,231.11 177.2,231.28 178.2,231.44 179.2,231.6 180.2,231.74 181.2,231.88 182.2,232.02 183.2,232.16 184.2,232.3 185.2,232.43 186.2,232.56 187.2,232.69 188.2,232.81 189.2,232.93 190.2,233.04 191.2,233.15 192.2,233.25 193.2,233.35 194.2,233.43 195.2,233.52 196.2,233.59 197.2,233.67 198.2,233.74 199.2,233.81 200.2,233.87 201.2,233.94 202.2,234 203.2,234.06 204.2,234.12 205.2,234.18 206.2,234.24 207.2,234.29 208.2,234.35 209.2,234.42 210.2,234.48 211.2,234.54 212.2,234.6 213.2,234.66 214.2,234.72 215.2,234.78 216.2,234.83 217.2,234.88 218.2,234.92 219.2,234.96 220.2,234.99 221.2,235.02 222.2,235.04 223.2,235.07 224.2,235.09 225.2,235.11 226.2,235.14 227.2,235.16 228.2,235.18 229.2,235.2 230.2,235.22 231.2,235.23 232.2,235.25 233.2,235.27 234.2,235.29 235.2,235.3 236.2,235.32 237.2,235.33 238.2,235.35 239.2,235.36 240.2,235.38 241.2,235.39 242.2,235.4 243.2,235.42 244.2,235.43 245.2,235.44 246.2,235.45 247.2,235.47 248.2,235.48 249.2,235.49 250.2,235.5 251.2,235.51 252.2,235.52 253.2,235.53 254.2,235.54 255.2,235.55 256.2,235.56 257.2,235.57 258.2,235.58 259.2,235.59 260.2,235.6 261.2,235.61 262.2,235.62 263.2,235.63 264.2,235.64 265.2,235.65 266.2,235.66 267.2,235.67 268.2,235.68 269.2,235.7 270.2,235.71 271.2,235.72 272.2,235.73 273.2,235.74 274.2,235.75 275.2,235.76 276.2,235.77 277.2,235.77 278.2,235.78 279.2,235.79 280.2,235.8 281.2,235.81 282.2,235.82 283.2,235.83 284.2,235.83 285.2,235.84 286.2,235.85 287.2,235.86 288.2,235.86 289.2,235.87 290.2,235.87 291.2,235.88 292.2,235.88 293.2,235.89 294.2,235.89 295.2,235.89 296.2,235.9 297.2,235.9 298.2,235.9 299.2,235.9 300.2,235.9 301.2,235.9 302.2,235.9 303.2,235.9 304.2,235.9 305.2,235.9 306.2,235.9 307.2,235.9 308.2,235.9 309.2,235.9 310.2,235.9 311.2,235.9 312.2,235.9 313.2,235.9 314.2,235.9 315.2,235.9 316.2,235.9 317.2,235.9 318.2,235.9 319.2,235.9 320.2,235.9 321.2,235.9 322.2,235.9 323.2,235.9 324.2,235.9 325.2,235.9 326.2,235.9 327.2,235.89 328.2,235.89 329.2,235.89 330.2,235.89 331.2,235.89 332.2,235.89 333.2,235.89 334.2,235.89 335.2,235.89 336.2,235.89 337.2,235.89 338.2,235.88 339.2,235.88 340.2,235.88 341.2,235.88 342.2,235.88 343.2,235.88 344.2,235.88 345.2,235.88 346.2,235.87 347.2,235.87 348.2,235.87 349.2,235.87 350.2,235.87 351.2,235.86 352.2,235.86 353.2,235.86 354.2,235.86 355.2,235.85 356.2,235.85 357.2,235.85 358.2,235.85 359.2,235.84 360.2,235.84 361.2,235.84 362.2,235.83 363.2,235.83 364.2,235.83 365.2,235.83 366.2,235.82 367.2,235.82 368.2,235.81 369.2,235.81 370.2,235.81 371.2,235.8 371.8,235.8" fill="none" stroke="#008b00" stroke-width="2.0" stroke-linejoin="round"/><path d="M45.2 160.63L51.5 156.99L51.5 164.26Z" fill="none" stroke="#008b00" stroke-width="1.0"/><path d="M58.39 164.49L64.69 160.86L64.69 168.13Z" fill="none" stroke="#008b00" stroke-width="1.0"/><path d="M71.58 172.45L77.88 168.81L77.88 176.08Z" fill="none" stroke="#008b00" stroke-width="1.0"/><path d="M84.77 184.21L91.07 180.57L91.07 187.85Z" fill="none" stroke="#008b00" stroke-width="1.0"/><path d="M97.96 197.43L104.26 193.8L104.26 201.07Z" fill="none" stroke="#008b00" stroke-width="1.0"/><path d="M111.15 209.55L117.45 205.92L117.45 213.19Z" fill="none" stroke="#008b00" stroke-width="1.0"/><path d="M124.34 218.16L130.64 214.52L130.64 221.8Z" fill="none" stroke="#008b00" stroke-width="1.0"/><path d="M137.53 224.18L143.83 220.55L143.83 227.82Z" fill="none" stroke="#008b00" stroke-width="1.0"/><path d="M150.72 227.71L157.02 224.08L157.02 231.35Z" fill="none" stroke="#008b00" stroke-width="1.0"/><path d="M163.91 229.72L170.21 226.08L170.21 233.35Z" fill="none" stroke="#008b00" stroke-width="1.0"/><path d="M177.1 231.9L183.4 228.26L183.4 235.54Z" fill="none" stroke="#008b00" stroke-width="1.0"/><path d="M190.29 233.46L196.59 229.82L196.59 237.1Z" fill="none" stroke="#008b00" stroke-width="1.0"/><path d="M203.48 234.32L209.78 230.69L209.78 237.96Z" fill="none" stroke="#008b00" stroke-width="1.0"/><path d="M216.67 235.01L222.97 231.37L222.97 238.65Z" fill="none" stroke="#008b00" stroke-width="1.0"/><path d="M229.86 235.29L236.16 231.65L236.16 238.92Z" fill="none" stroke="#008b00" stroke-width="1.0"/><path d="M243.05 235.47L249.35 231.83L249.35 239.1Z" fill="none" stroke="#008b00" stroke-width="1.0"/><path d="M256.24 235.6L262.54 231.97L262.54 239.24Z" fill="none" stroke="#008b00" stroke-width="1.0"/><path d="M269.43 235.74L275.73 232.1L275.73 239.38Z" fill="none" stroke="#008b00" stroke-width="1.0"/><path d="M282.62 235.85L288.92 232.22L288.92 239.49Z" fill="none" stroke="#008b00" stroke-width="1.0"/><path d="M295.81 235.9L302.11 232.26L302.11 239.54Z" fill="none" stroke="#008b00" stroke-width="1.0"/><path d="M309 235.9L315.3 232.26L315.3 239.54Z" fill="none" stroke="#008b00" stroke-width="1.0"/><path d="M322.19 235.9L328.49 232.26L328.49 239.53Z" fill="none" stroke="#008b00" stroke-width="1.0"/><path d="M335.38 235.88L341.68 232.25L341.68 239.52Z" fill="none" stroke="#008b00" stroke-width="1.0"/><path d="M348.57 235.86L354.87 232.22L354.87 239.5Z" fill="none" stroke="#008b00" stroke-width="1.0"/><path d="M361.76 235.82L368.06 232.19L368.06 239.46Z" fill="none" stroke="#008b00" stroke-width="1.0"/>
<polyline points="40.2,155.5 41.2,155.5 42.2,155.5 43.2,155.5 44.2,155.5 45.2,155.5 46.2,155.5 47.2,155.5 48.2,155.5 49.2,155.5 50.2,155.5 51.2,155.5 52.2,155.5 53.2,155.5 54.2,155.5 55.2,155.5 56.2,155.5 57.2,155.5 58.2,155.5 59.2,155.5 60.2,155.5 61.2,155.5 62.2,155.5 63.2,155.5 64.2,155.5 65.2,155.5 66.2,155.5 67.2,155.5 68.2,155.5 69.2,155.5 70.2,155.5 71.2,155.5 72.2,155.5 73.2,155.5 74.2,155.5 75.2,155.5 76.2,155.5 77.2,155.5 78.2,155.5 79.2,155.5 80.2,155.5 81.2,155.5 82.2,155.5 83.2,155.5 84.2,155.5 85.2,155.5 86.2,155.5 87.2,155.5 88.2,155.5 89.2,155.5 90.2,155.5 91.2,155.5 92.2,155.5 93.2,155.5 94.2,155.5 95.2,155.5 96.2,155.5 97.2,155.5 98.2,155.5 99.2,155.5 100.2,155.5 101.2,155.5 102.2,155.5 103.2,155.5 104.2,155.5 105.2,155.5 106.2,155.5 107.2,155.5 108.2,155.5 109.2,155.5 110.2,155.5 111.2,155.5 112.2,155.5 113.2,155.5 114.2,155.5 115.2,155.5 116.2,155.5 117.2,155.5 118.2,155.5 119.2,155.5 120.2,155.5 121.2,155.5 122.2,155.5 123.2,155.5 124.2,155.5 125.2,155.5 126.2,155.5 127.2,155.5 128.2,155.5 129.2,155.5 130.2,155.5 131.2,155.5 132.2,155.5 133.2,155.5 134.2,155.5 135.2,155.5 136.2,155.5 137.2,155.5 138.2,155.5 139.2,155.5 140.2,155.5 141.2,155.5 142.2,155.5 143.2,155.51 144.2,155.51 145.2,155.52 146.2,155.54 147.2,155.55 148.2,155.56 149.2,155.58 150.2,155.6 151.2,155.62 152.2,155.64 153.2,155.66 154.2,155.69 155.2,155.71 156.2,155.74 157.2,155.77 158.2,155.81 159.2,155.85 160.2,155.9 161.2,155.96 162.2,156.02 163.2,156.08 164.2,156.15 165.2,156.22 166.2,156.3 167.2,156.38 168.2,156.47 169.2,156.58 170.2,156.71 171.2,156.85 172.2,157 173.2,157.17 174.2,157.36 175.2,157.56 176.2,157.78 177.2,158.01 178.2,158.25 179.2,158.51 180.2,158.79 181.2,159.08 182.2,159.43 183.2,159.84 184.2,160.3 185.2,160.8 186.2,161.35 187.2,161.94 188.2,162.56 189.2,163.21 190.2,163.89 191.2,164.6 192.2,165.32 193.2,166.05 194.2,166.81 195.2,167.63 196.2,168.53 197.2,169.5 198.2,170.53 199.2,171.6 200.2,172.72 201.2,173.86 202.2,175.02 203.2,176.2 204.2,177.37 205.2,178.53 206.2,179.68 207.2,180.79 208.2,181.9 209.2,183.03 210.2,184.18 211.2,185.34 212.2,186.51 213.2,187.68 214.2,188.85 215.2,190 216.2,191.14 217.2,192.26 218.2,193.34 219.2,194.4 220.2,195.41 221.2,196.38 222.2,197.32 223.2,198.24 224.2,199.14 225.2,200.03 226.2,200.9 227.2,201.75 228.2,202.59 229.2,203.42 230.2,204.24 231.2,205.05 232.2,205.86 233.2,206.66 234.2,207.46 235.2,208.27 236.2,209.1 237.2,209.92 238.2,210.75 239.2,211.57 240.2,212.37 241.2,213.16 242.2,213.91 243.2,214.63 244.2,215.32 245.2,215.95 246.2,216.54 247.2,217.07 248.2,217.58 249.2,218.06 250.2,218.53 251.2,218.97 252.2,219.4 253.2,219.81 254.2,220.2 255.2,220.59 256.2,220.96 257.2,221.32 258.2,221.68 259.2,222.03 260.2,222.37 261.2,222.71 262.2,223.04 263.2,223.37 264.2,223.69 265.2,224 266.2,224.31 267.2,224.6 268.2,224.89 269.2,225.17 270.2,225.43 271.2,225.69 272.2,225.94 273.2,226.18 274.2,226.41 275.2,226.63 276.2,226.85 277.2,227.06 278.2,227.26 279.2,227.46 280.2,227.66 281.2,227.84 282.2,228.02 283.2,228.19 284.2,228.36 285.2,228.51 286.2,228.66 287.2,228.8 288.2,228.93 289.2,229.06 290.2,229.18 291.2,229.3 292.2,229.41 293.2,229.52 294.2,229.63 295.2,229.74 296.2,229.84 297.2,229.93 298.2,230.03 299.2,230.13 300.2,230.22 301.2,230.32 302.2,230.42 303.2,230.53 304.2,230.63 305.2,230.74 306.2,230.84 307.2,230.93 308.2,231.02 309.2,231.09 310.2,231.14 311.2,231.18 312.2,231.2 313.2,231.2 314.2,231.2 315.2,231.2 316.2,231.2 317.2,231.2 318.2,231.2 319.2,231.2 320.2,231.2 321.2,231.2 322.2,231.2 323.2,231.2 324.2,231.2 325.2,231.2 326.2,231.2 327.2,231.2 328.2,231.2 329.2,231.2 330.2,231.2 331.2,231.2 332.2,231.2 333.2,231.2 334.2,231.2 335.2,231.2 336.2,231.2 337.2,231.2 338.2,231.2 339.2,231.2 340.2,231.2 341.2,231.2 342.2,231.2 343.2,231.2 344.2,231.2 345.2,231.2 346.2,231.2 347.2,231.2 348.2,231.2 349.2,231.2 350.2,231.2 351.2,231.2 352.2,231.2 353.2,231.2 354.2,231.21 355.2,231.24 356.2,231.27 357.2,231.32 358.2,231.37 359.2,231.42 360.2,231.48 361.2,231.54 362.2,231.61 363.2,231.66 364.2,231.72 365.2,231.77 366.2,231.81 367.2,231.85 368.2,231.88 369.2,231.92 370.2,231.95 371.2,231.98 371.8,232" fill="none" stroke="#0000ff" stroke-width="2.0" stroke-linejoin="round"/><path d="M49.4 151.3L53.04 157.6L45.76 157.6Z" fill="none" stroke="#0000ff" stroke-width="1.0"/><path d="M62.59 151.3L66.23 157.6L58.95 157.6Z" fill="none" stroke="#0000ff" stroke-width="1.0"/><path d="M75.78 151.3L79.42 157.6L72.14 157.6Z" fill="none" stroke="#0000ff" stroke-width="1.0"/><path d="M88.97 151.3L92.61 157.6L85.33 157.6Z" fill="none" stroke="#0000ff" stroke-width="1.0"/><path d="M102.16 151.3L105.8 157.6L98.52 157.6Z" fill="none" stroke="#0000ff" stroke-width="1.0"/><path d="M115.35 151.3L118.99 157.6L111.71 157.6Z" fill="none" stroke="#0000ff" stroke-width="1.0"/><path d="M128.54 151.3L132.18 157.6L124.9 157.6Z" fill="none" stroke="#0000ff" stroke-width="1.0"/><path d="M141.73 151.3L145.37 157.6L138.09 157.6Z" fill="none" stroke="#0000ff" stroke-width="1.0"/><path d="M154.92 151.5L158.56 157.8L151.28 157.8Z" fill="none" stroke="#0000ff" stroke-width="1.0"/><path d="M168.11 152.27L171.75 158.57L164.47 158.57Z" fill="none" stroke="#0000ff" stroke-width="1.0"/><path d="M181.3 154.91L184.94 161.21L177.66 161.21Z" fill="none" stroke="#0000ff" stroke-width="1.0"/><path d="M194.49 162.84L198.13 169.14L190.85 169.14Z" fill="none" stroke="#0000ff" stroke-width="1.0"/><path d="M207.68 177.12L211.32 183.42L204.04 183.42Z" fill="none" stroke="#0000ff" stroke-width="1.0"/><path d="M220.87 191.86L224.51 198.16L217.23 198.16Z" fill="none" stroke="#0000ff" stroke-width="1.0"/><path d="M234.06 203.15L237.7 209.45L230.42 209.45Z" fill="none" stroke="#0000ff" stroke-width="1.0"/><path d="M247.25 212.9L250.89 219.2L243.61 219.2Z" fill="none" stroke="#0000ff" stroke-width="1.0"/><path d="M260.44 218.25L264.08 224.55L256.8 224.55Z" fill="none" stroke="#0000ff" stroke-width="1.0"/><path d="M273.63 222.08L277.27 228.38L269.99 228.38Z" fill="none" stroke="#0000ff" stroke-width="1.0"/><path d="M286.82 224.54L290.46 230.84L283.18 230.84Z" fill="none" stroke="#0000ff" stroke-width="1.0"/><path d="M300.01 226L303.65 232.3L296.37 232.3Z" fill="none" stroke="#0000ff" stroke-width="1.0"/><path d="M313.2 227L316.84 233.3L309.56 233.3Z" fill="none" stroke="#0000ff" stroke-width="1.0"/><path d="M326.39 227L330.03 233.3L322.75 233.3Z" fill="none" stroke="#0000ff" stroke-width="1.0"/><path d="M339.58 227L343.22 233.3L335.94 233.3Z" fill="none" stroke="#0000ff" stroke-width="1.0"/><path d="M352.77 227L356.41 233.3L349.13 233.3Z" fill="none" stroke="#0000ff" stroke-width="1.0"/><path d="M365.96 227.6L369.6 233.9L362.32 233.9Z" fill="none" stroke="#0000ff" stroke-width="1.0"/>
<polyline points="40.2,154.4 41.2,154.4 42.2,154.4 43.2,154.4 44.2,154.4 45.2,154.4 46.2,154.4 47.2,154.4 48.2,154.4 49.2,154.4 50.2,154.4 51.2,154.4 52.2,154.4 53.2,154.4 54.2,154.4 55.2,154.4 56.2,154.4 57.2,154.4 58.2,154.4 59.2,154.4 60.2,154.4 61.2,154.4 62.2,154.4 63.2,154.4 64.2,154.4 65.2,154.4 66.2,154.4 67.2,154.4 68.2,154.4 69.2,154.4 70.2,154.4 71.2,154.4 72.2,154.4 73.2,154.4 74.2,154.4 75.2,154.4 76.2,154.4 77.2,154.4 78.2,154.4 79.2,154.4 80.2,154.4 81.2,154.4 82.2,154.4 83.2,154.4 84.2,154.4 85.2,154.4 86.2,154.4 87.2,154.4 88.2,154.4 89.2,154.4 90.2,154.4 91.2,154.4 92.2,154.4 93.2,154.4 94.2,154.4 95.2,154.4 96.2,154.4 97.2,154.4 98.2,154.4 99.2,154.4 100.2,154.4 101.2,154.4 102.2,154.4 103.2,154.4 104.2,154.4 105.2,154.4 106.2,154.4 107.2,154.4 108.2,154.4 109.2,154.4 110.2,154.4 111.2,154.4 112.2,154.4 113.2,154.4 114.2,154.4 115.2,154.4 116.2,154.4 117.2,154.4 118.2,154.4 119.2,154.4 120.2,154.4 121.2,154.4 122.2,154.4 123.2,154.4 124.2,154.4 125.2,154.4 126.2,154.4 127.2,154.4 128.2,154.4 129.2,154.4 130.2,154.4 131.2,154.4 132.2,154.4 133.2,154.4 134.2,154.4 135.2,154.4 136.2,154.4 137.2,154.4 138.2,154.4 139.2,154.4 140.2,154.4 141.2,154.4 142.2,154.4 143.2,154.4 144.2,154.4 145.2,154.4 146.2,154.4 147.2,154.4 148.2,154.4 149.2,154.4 150.2,154.4 151.2,154.4 152.2,154.4 153.2,154.4 154.2,154.4 155.2,154.4 156.2,154.4 157.2,154.4 158.2,154.4 159.2,154.4 160.2,154.4 161.2,154.4 162.2,154.4 163.2,154.4 164.2,154.4 165.2,154.4 166.2,154.4 167.2,154.4 168.2,154.4 169.2,154.4 170.2,154.4 171.2,154.4 172.2,154.4 173.2,154.4 174.2,154.4 175.2,154.4 176.2,154.4 177.2,154.4 178.2,154.4 179.2,154.4 180.2,154.4 181.2,154.4 182.2,154.4 183.2,154.4 184.2,154.4 185.2,154.4 186.2,154.4 187.2,154.4 188.2,154.4 189.2,154.4 190.2,154.4 191.2,154.4 192.2,154.4 193.2,154.4 194.2,154.4 195.2,154.41 196.2,154.42 197.2,154.44 198.2,154.46 199.2,154.49 200.2,154.53 201.2,154.57 202.2,154.61 203.2,154.66 204.2,154.71 205.2,154.77 206.2,154.83 207.2,154.89 208.2,154.97 209.2,155.09 210.2,155.23 211.2,155.41 212.2,155.61 213.2,155.83 214.2,156.08 215.2,156.35 216.2,156.64 217.2,156.94 218.2,157.25 219.2,157.57 220.2,157.9 221.2,158.25 222.2,158.64 223.2,159.07 224.2,159.55 225.2,160.07 226.2,160.63 227.2,161.21 228.2,161.83 229.2,162.47 230.2,163.13 231.2,163.81 232.2,164.51 233.2,165.22 234.2,165.95 235.2,166.71 236.2,167.54 237.2,168.42 238.2,169.34 239.2,170.3 240.2,171.29 241.2,172.3 242.2,173.33 243.2,174.37 244.2,175.42 245.2,176.46 246.2,177.49 247.2,178.52 248.2,179.57 249.2,180.65 250.2,181.74 251.2,182.85 252.2,183.96 253.2,185.08 254.2,186.2 255.2,187.32 256.2,188.43 257.2,189.53 258.2,190.61 259.2,191.68 260.2,192.72 261.2,193.77 262.2,194.83 263.2,195.9 264.2,196.96 265.2,198.01 266.2,199.05 267.2,200.08 268.2,201.08 269.2,202.06 270.2,203.01 271.2,203.92 272.2,204.79 273.2,205.62 274.2,206.41 275.2,207.18 276.2,207.94 277.2,208.67 278.2,209.39 279.2,210.09 280.2,210.76 281.2,211.42 282.2,212.05 283.2,212.66 284.2,213.24 285.2,213.81 286.2,214.34 287.2,214.86 288.2,215.35 289.2,215.82 290.2,216.28 291.2,216.72 292.2,217.14 293.2,217.56 294.2,217.96 295.2,218.36 296.2,218.74 297.2,219.13 298.2,219.51 299.2,219.89 300.2,220.28 301.2,220.67 302.2,221.08 303.2,221.49 304.2,221.9 305.2,222.31 306.2,222.71 307.2,223.09 308.2,223.45 309.2,223.78 310.2,224.08 311.2,224.33 312.2,224.55 313.2,224.72 314.2,224.88 315.2,225.04 316.2,225.19 317.2,225.33 318.2,225.47 319.2,225.59 320.2,225.71 321.2,225.81 322.2,225.91 323.2,225.99 324.2,226.07 325.2,226.13 326.2,226.18 327.2,226.22 328.2,226.25 329.2,226.28 330.2,226.31 331.2,226.33 332.2,226.35 333.2,226.37 334.2,226.38 335.2,226.4 336.2,226.42 337.2,226.44 338.2,226.47 339.2,226.5 340.2,226.53 341.2,226.56 342.2,226.59 343.2,226.63 344.2,226.67 345.2,226.71 346.2,226.75 347.2,226.79 348.2,226.84 349.2,226.89 350.2,226.94 351.2,227 352.2,227.06 353.2,227.13 354.2,227.21 355.2,227.3 356.2,227.4 357.2,227.51 358.2,227.64 359.2,227.77 360.2,227.9 361.2,228.04 362.2,228.18 363.2,228.32 364.2,228.46 365.2,228.59 366.2,228.73 367.2,228.86 368.2,228.99 369.2,229.13 370.2,229.27 371.2,229.41 371.8,229.5" fill="none" stroke="#00ff00" stroke-width="2.0" stroke-linejoin="round"/><path d="M45.3 154.4L49.4 150.3L53.5 154.4L49.4 158.5Z" fill="none" stroke="#00ff00" stroke-width="1.0"/><path d="M58.49 154.4L62.59 150.3L66.69 154.4L62.59 158.5Z" fill="none" stroke="#00ff00" stroke-width="1.0"/><path d="M71.68 154.4L75.78 150.3L79.88 154.4L75.78 158.5Z" fill="none" stroke="#00ff00" stroke-width="1.0"/><path d="M84.87 154.4L88.97 150.3L93.07 154.4L88.97 158.5Z" fill="none" stroke="#00ff00" stroke-width="1.0"/><path d="M98.06 154.4L102.16 150.3L106.26 154.4L102.16 158.5Z" fill="none" stroke="#00ff00" stroke-width="1.0"/><path d="M111.25 154.4L115.35 150.3L119.45 154.4L115.35 158.5Z" fill="none" stroke="#00ff00" stroke-width="1.0"/><path d="M124.44 154.4L128.54 150.3L132.64 154.4L128.54 158.5Z" fill="none" stroke="#00ff00" stroke-width="1.0"/><path d="M137.63 154.4L141.73 150.3L145.83 154.4L141.73 158.5Z" fill="none" stroke="#00ff00" stroke-width="1.0"/><path d="M150.82 154.4L154.92 150.3L159.02 154.4L154.92 158.5Z" fill="none" stroke="#00ff00" stroke-width="1.0"/><path d="M164.01 154.4L168.11 150.3L172.21 154.4L168.11 158.5Z" fill="none" stroke="#00ff00" stroke-width="1.0"/><path d="M177.2 154.4L181.3 150.3L185.4 154.4L181.3 158.5Z" fill="none" stroke="#00ff00" stroke-width="1.0"/><path d="M190.39 154.4L194.49 150.3L198.59 154.4L194.49 158.5Z" fill="none" stroke="#00ff00" stroke-width="1.0"/><path d="M203.58 154.93L207.68 150.83L211.78 154.93L207.68 159.03Z" fill="none" stroke="#00ff00" stroke-width="1.0"/><path d="M216.77 158.13L220.87 154.03L224.97 158.13L220.87 162.23Z" fill="none" stroke="#00ff00" stroke-width="1.0"/><path d="M229.96 165.84L234.06 161.74L238.16 165.84L234.06 169.94Z" fill="none" stroke="#00ff00" stroke-width="1.0"/><path d="M243.15 178.57L247.25 174.47L251.35 178.57L247.25 182.67Z" fill="none" stroke="#00ff00" stroke-width="1.0"/><path d="M256.34 192.97L260.44 188.87L264.54 192.97L260.44 197.07Z" fill="none" stroke="#00ff00" stroke-width="1.0"/><path d="M269.53 205.96L273.63 201.86L277.73 205.96L273.63 210.06Z" fill="none" stroke="#00ff00" stroke-width="1.0"/><path d="M282.72 214.66L286.82 210.56L290.92 214.66L286.82 218.76Z" fill="none" stroke="#00ff00" stroke-width="1.0"/><path d="M295.91 220.2L300.01 216.1L304.11 220.2L300.01 224.3Z" fill="none" stroke="#00ff00" stroke-width="1.0"/><path d="M309.1 224.72L313.2 220.62L317.3 224.72L313.2 228.82Z" fill="none" stroke="#00ff00" stroke-width="1.0"/><path d="M322.29 226.19L326.39 222.09L330.49 226.19L326.39 230.29Z" fill="none" stroke="#00ff00" stroke-width="1.0"/><path d="M335.48 226.51L339.58 222.41L343.68 226.51L339.58 230.61Z" fill="none" stroke="#00ff00" stroke-width="1.0"/><path d="M348.67 227.1L352.77 223L356.87 227.1L352.77 231.2Z" fill="none" stroke="#00ff00" stroke-width="1.0"/><path d="M361.86 228.69L365.96 224.59L370.06 228.69L365.96 232.79Z" fill="none" stroke="#00ff00" stroke-width="1.0"/>
<polyline points="40.2,153.3 41.2,153.3 42.2,153.3 43.2,153.3 44.2,153.3 45.2,153.3 46.2,153.3 47.2,153.3 48.2,153.3 49.2,153.3 50.2,153.3 51.2,153.3 52.2,153.3 53.2,153.3 54.2,153.3 55.2,153.3 56.2,153.3 57.2,153.3 58.2,153.3 59.2,153.3 60.2,153.3 61.2,153.3 62.2,153.3 63.2,153.3 64.2,153.3 65.2,153.3 66.2,153.3 67.2,153.3 68.2,153.3 69.2,153.3 70.2,153.3 71.2,153.3 72.2,153.3 73.2,153.3 74.2,153.3 75.2,153.3 76.2,153.3 77.2,153.3 78.2,153.3 79.2,153.3 80.2,153.3 81.2,153.3 82.2,153.3 83.2,153.3 84.2,153.3 85.2,153.3 86.2,153.3 87.2,153.3 88.2,153.3 89.2,153.3 90.2,153.3 91.2,153.3 92.2,153.3 93.2,153.3 94.2,153.3 95.2,153.3 96.2,153.3 97.2,153.3 98.2,153.3 99.2,153.3 100.2,153.3 101.2,153.3 102.2,153.3 103.2,153.3 104.2,153.3 105.2,153.3 106.2,153.3 107.2,153.3 108.2,153.3 109.2,153.3 110.2,153.3 111.2,153.3 112.2,153.3 113.2,153.3 114.2,153.3 115.2,153.3 116.2,153.3 117.2,153.3 118.2,153.3 119.2,153.3 120.2,153.3 121.2,153.3 122.2,153.3 123.2,153.3 124.2,153.3 125.2,153.3 126.2,153.3 127.2,153.3 128.2,153.3 129.2,153.3 130.2,153.3 131.2,153.3 132.2,153.3 133.2,153.3 134.2,153.3 135.2,153.3 136.2,153.3 137.2,153.3 138.2,153.3 139.2,153.3 140.2,153.3 141.2,153.3 142.2,153.3 143.2,153.3 144.2,153.3 145.2,153.3 146.2,153.3 147.2,153.3 148.2,153.3 149.2,153.3 150.2,153.3 151.2,153.3 152.2,153.3 153.2,153.3 154.2,153.3 155.2,153.3 156.2,153.3 157.2,153.3 158.2,153.3 159.2,153.3 160.2,153.3 161.2,153.3 162.2,153.3 163.2,153.3 164.2,153.3 165.2,153.3 166.2,153.3 167.2,153.3 168.2,153.3 169.2,153.3 170.2,153.3 171.2,153.3 172.2,153.3 173.2,153.3 174.2,153.3 175.2,153.3 176.2,153.3 177.2,153.3 178.2,153.3 179.2,153.3 180.2,153.3 181.2,153.3 182.2,153.3 183.2,153.3 184.2,153.3 185.2,153.3 186.2,153.3 187.2,153.3 188.2,153.3 189.2,153.3 190.2,153.3 191.2,153.3 192.2,153.3 193.2,153.3 194.2,153.3 195.2,153.3 196.2,153.3 197.2,153.3 198.2,153.3 199.2,153.3 200.2,153.3 201.2,153.3 202.2,153.3 203.2,153.3 204.2,153.3 205.2,153.3 206.2,153.3 207.2,153.3 208.2,153.3 209.2,153.3 210.2,153.3 211.2,153.3 212.2,153.3 213.2,153.3 214.2,153.3 215.2,153.3 216.2,153.3 217.2,153.3 218.2,153.3 219.2,153.3 220.2,153.3 221.2,153.31 222.2,153.33 223.2,153.38 224.2,153.45 225.2,153.53 226.2,153.64 227.2,153.75 228.2,153.88 229.2,154.02 230.2,154.17 231.2,154.33 232.2,154.49 233.2,154.66 234.2,154.84 235.2,155.04 236.2,155.29 237.2,155.58 238.2,155.91 239.2,156.27 240.2,156.66 241.2,157.08 242.2,157.52 243.2,157.98 244.2,158.46 245.2,158.95 246.2,159.45 247.2,159.97 248.2,160.54 249.2,161.17 250.2,161.84 251.2,162.56 252.2,163.31 253.2,164.08 254.2,164.88 255.2,165.7 256.2,166.52 257.2,167.36 258.2,168.19 259.2,169.01 260.2,169.83 261.2,170.65 262.2,171.49 263.2,172.34 264.2,173.2 265.2,174.08 266.2,174.97 267.2,175.86 268.2,176.77 269.2,177.68 270.2,178.6 271.2,179.53 272.2,180.47 273.2,181.41 274.2,182.36 275.2,183.33 276.2,184.31 277.2,185.31 278.2,186.33 279.2,187.34 280.2,188.37 281.2,189.39 282.2,190.41 283.2,191.43 284.2,192.43 285.2,193.43 286.2,194.41 287.2,195.38 288.2,196.37 289.2,197.37 290.2,198.38 291.2,199.39 292.2,200.39 293.2,201.38 294.2,202.35 295.2,203.3 296.2,204.22 297.2,205.09 298.2,205.93 299.2,206.71 300.2,207.44 301.2,208.14 302.2,208.83 303.2,209.5 304.2,210.14 305.2,210.77 306.2,211.37 307.2,211.95 308.2,212.5 309.2,213.02 310.2,213.51 311.2,213.96 312.2,214.38 313.2,214.77 314.2,215.13 315.2,215.48 316.2,215.82 317.2,216.14 318.2,216.45 319.2,216.74 320.2,217.02 321.2,217.29 322.2,217.55 323.2,217.8 324.2,218.04 325.2,218.27 326.2,218.49 327.2,218.71 328.2,218.91 329.2,219.11 330.2,219.29 331.2,219.47 332.2,219.64 333.2,219.81 334.2,219.97 335.2,220.13 336.2,220.29 337.2,220.45 338.2,220.62 339.2,220.78 340.2,220.95 341.2,221.11 342.2,221.26 343.2,221.42 344.2,221.57 345.2,221.72 346.2,221.87 347.2,222.02 348.2,222.18 349.2,222.34 350.2,222.51 351.2,222.69 352.2,222.88 353.2,223.08 354.2,223.3 355.2,223.53 356.2,223.77 357.2,224.03 358.2,224.29 359.2,224.57 360.2,224.84 361.2,225.13 362.2,225.41 363.2,225.7 364.2,225.99 365.2,226.27 366.2,226.56 367.2,226.84 368.2,227.13 369.2,227.42 370.2,227.72 371.2,228.02 371.8,228.2" fill="none" stroke="#ff0000" stroke-width="2.0" stroke-linejoin="round"/><rect x="46.3" y="150.2" width="6.2" height="6.2" fill="none" stroke="#ff0000" stroke-width="1.0"/><rect x="59.49" y="150.2" width="6.2" height="6.2" fill="none" stroke="#ff0000" stroke-width="1.0"/><rect x="72.68" y="150.2" width="6.2" height="6.2" fill="none" stroke="#ff0000" stroke-width="1.0"/><rect x="85.87" y="150.2" width="6.2" height="6.2" fill="none" stroke="#ff0000" stroke-width="1.0"/><rect x="99.06" y="150.2" width="6.2" height="6.2" fill="none" stroke="#ff0000" stroke-width="1.0"/><rect x="112.25" y="150.2" width="6.2" height="6.2" fill="none" stroke="#ff0000" stroke-width="1.0"/><rect x="125.44" y="150.2" width="6.2" height="6.2" fill="none" stroke="#ff0000" stroke-width="1.0"/><rect x="138.63" y="150.2" width="6.2" height="6.2" fill="none" stroke="#ff0000" stroke-width="1.0"/><rect x="151.82" y="150.2" width="6.2" height="6.2" fill="none" stroke="#ff0000" stroke-width="1.0"/><rect x="165.01" y="150.2" width="6.2" height="6.2" fill="none" stroke="#ff0000" stroke-width="1.0"/><rect x="178.2" y="150.2" width="6.2" height="6.2" fill="none" stroke="#ff0000" stroke-width="1.0"/><rect x="191.39" y="150.2" width="6.2" height="6.2" fill="none" stroke="#ff0000" stroke-width="1.0"/><rect x="204.58" y="150.2" width="6.2" height="6.2" fill="none" stroke="#ff0000" stroke-width="1.0"/><rect x="217.77" y="150.2" width="6.2" height="6.2" fill="none" stroke="#ff0000" stroke-width="1.0"/><rect x="230.96" y="151.71" width="6.2" height="6.2" fill="none" stroke="#ff0000" stroke-width="1.0"/><rect x="244.15" y="156.9" width="6.2" height="6.2" fill="none" stroke="#ff0000" stroke-width="1.0"/><rect x="257.34" y="166.92" width="6.2" height="6.2" fill="none" stroke="#ff0000" stroke-width="1.0"/><rect x="270.53" y="178.71" width="6.2" height="6.2" fill="none" stroke="#ff0000" stroke-width="1.0"/><rect x="283.72" y="191.91" width="6.2" height="6.2" fill="none" stroke="#ff0000" stroke-width="1.0"/><rect x="296.91" y="204.21" width="6.2" height="6.2" fill="none" stroke="#ff0000" stroke-width="1.0"/><rect x="310.1" y="211.67" width="6.2" height="6.2" fill="none" stroke="#ff0000" stroke-width="1.0"/><rect x="323.29" y="215.43" width="6.2" height="6.2" fill="none" stroke="#ff0000" stroke-width="1.0"/><rect x="336.48" y="217.75" width="6.2" height="6.2" fill="none" stroke="#ff0000" stroke-width="1.0"/><rect x="349.67" y="219.89" width="6.2" height="6.2" fill="none" stroke="#ff0000" stroke-width="1.0"/><rect x="362.86" y="223.39" width="6.2" height="6.2" fill="none" stroke="#ff0000" stroke-width="1.0"/>
<polyline points="40.2,152.3 41.2,152.3 42.2,152.3 43.2,152.3 44.2,152.3 45.2,152.3 46.2,152.3 47.2,152.3 48.2,152.3 49.2,152.3 50.2,152.3 51.2,152.3 52.2,152.3 53.2,152.3 54.2,152.3 55.2,152.3 56.2,152.3 57.2,152.3 58.2,152.3 59.2,152.3 60.2,152.3 61.2,152.3 62.2,152.3 63.2,152.3 64.2,152.3 65.2,152.3 66.2,152.3 67.2,152.3 68.2,152.3 69.2,152.3 70.2,152.3 71.2,152.3 72.2,152.3 73.2,152.3 74.2,152.3 75.2,152.3 76.2,152.3 77.2,152.3 78.2,152.3 79.2,152.3 80.2,152.3 81.2,152.3 82.2,152.3 83.2,152.3 84.2,152.3 85.2,152.3 86.2,152.3 87.2,152.3 88.2,152.3 89.2,152.3 90.2,152.3 91.2,152.3 92.2,152.3 93.2,152.3 94.2,152.3 95.2,152.3 96.2,152.3 97.2,152.3 98.2,152.3 99.2,152.3 100.2,152.3 101.2,152.3 102.2,152.3 103.2,152.3 104.2,152.3 105.2,152.3 106.2,152.3 107.2,152.3 108.2,152.3 109.2,152.3 110.2,152.3 111.2,152.3 112.2,152.3 113.2,152.3 114.2,152.3 115.2,152.3 116.2,152.3 117.2,152.3 118.2,152.3 119.2,152.3 120.2,152.3 121.2,152.3 122.2,152.3 123.2,152.3 124.2,152.3 125.2,152.3 126.2,152.3 127.2,152.3 128.2,152.3 129.2,152.3 130.2,152.3 131.2,152.3 132.2,152.3 133.2,152.3 134.2,152.3 135.2,152.3 136.2,152.3 137.2,152.3 138.2,152.3 139.2,152.3 140.2,152.3 141.2,152.3 142.2,152.3 143.2,152.3 144.2,152.3 145.2,152.3 146.2,152.3 147.2,152.3 148.2,152.3 149.2,152.3 150.2,152.3 151.2,152.3 152.2,152.3 153.2,152.3 154.2,152.3 155.2,152.3 156.2,152.3 157.2,152.3 158.2,152.3 159.2,152.3 160.2,152.3 161.2,152.3 162.2,152.3 163.2,152.3 164.2,152.3 165.2,152.3 166.2,152.3 167.2,152.3 168.2,152.3 169.2,152.3 170.2,152.3 171.2,152.3 172.2,152.3 173.2,152.3 174.2,152.3 175.2,152.3 176.2,152.3 177.2,152.3 178.2,152.3 179.2,152.3 180.2,152.3 181.2,152.3 182.2,152.3 183.2,152.3 184.2,152.3 185.2,152.3 186.2,152.3 187.2,152.3 188.2,152.3 189.2,152.3 190.2,152.3 191.2,152.3 192.2,152.3 193.2,152.3 194.2,152.3 195.2,152.3 196.2,152.3 197.2,152.3 198.2,152.3 199.2,152.3 200.2,152.3 201.2,152.3 202.2,152.3 203.2,152.3 204.2,152.3 205.2,152.3 206.2,152.3 207.2,152.3 208.2,152.3 209.2,152.3 210.2,152.3 211.2,152.3 212.2,152.3 213.2,152.3 214.2,152.3 215.2,152.3 216.2,152.3 217.2,152.3 218.2,152.3 219.2,152.3 220.2,152.3 221.2,152.3 222.2,152.3 223.2,152.3 224.2,152.3 225.2,152.3 226.2,152.3 227.2,152.3 228.2,152.3 229.2,152.3 230.2,152.3 231.2,152.3 232.2,152.3 233.2,152.3 234.2,152.3 235.2,152.32 236.2,152.38 237.2,152.46 238.2,152.56 239.2,152.68 240.2,152.82 241.2,152.98 242.2,153.15 243.2,153.32 244.2,153.5 245.2,153.67 246.2,153.85 247.2,154.02 248.2,154.21 249.2,154.4 250.2,154.61 251.2,154.83 252.2,155.07 253.2,155.32 254.2,155.58 255.2,155.86 256.2,156.15 257.2,156.46 258.2,156.79 259.2,157.14 260.2,157.5 261.2,157.9 262.2,158.36 263.2,158.86 264.2,159.41 265.2,160 266.2,160.63 267.2,161.29 268.2,161.98 269.2,162.7 270.2,163.43 271.2,164.19 272.2,164.95 273.2,165.72 274.2,166.52 275.2,167.39 276.2,168.3 277.2,169.27 278.2,170.27 279.2,171.29 280.2,172.35 281.2,173.41 282.2,174.49 283.2,175.56 284.2,176.63 285.2,177.67 286.2,178.7 287.2,179.7 288.2,180.71 289.2,181.73 290.2,182.75 291.2,183.77 292.2,184.79 293.2,185.81 294.2,186.82 295.2,187.83 296.2,188.83 297.2,189.81 298.2,190.79 299.2,191.75 300.2,192.69 301.2,193.63 302.2,194.59 303.2,195.55 304.2,196.51 305.2,197.46 306.2,198.4 307.2,199.31 308.2,200.19 309.2,201.04 310.2,201.84 311.2,202.6 312.2,203.3 313.2,203.95 314.2,204.58 315.2,205.19 316.2,205.78 317.2,206.36 318.2,206.91 319.2,207.44 320.2,207.95 321.2,208.45 322.2,208.92 323.2,209.37 324.2,209.81 325.2,210.22 326.2,210.61 327.2,210.98 328.2,211.33 329.2,211.66 330.2,211.97 331.2,212.27 332.2,212.56 333.2,212.84 334.2,213.11 335.2,213.38 336.2,213.65 337.2,213.92 338.2,214.19 339.2,214.47 340.2,214.76 341.2,215.03 342.2,215.31 343.2,215.58 344.2,215.84 345.2,216.11 346.2,216.38 347.2,216.65 348.2,216.93 349.2,217.21 350.2,217.5 351.2,217.8 352.2,218.11 353.2,218.43 354.2,218.77 355.2,219.12 356.2,219.48 357.2,219.85 358.2,220.23 359.2,220.61 360.2,221.01 361.2,221.4 362.2,221.8 363.2,222.2 364.2,222.59 365.2,222.99 366.2,223.38 367.2,223.77 368.2,224.16 369.2,224.56 370.2,224.96 371.2,225.36 371.8,225.6" fill="none" stroke="#000000" stroke-width="2.0" stroke-linejoin="round"/><circle cx="49.4" cy="152.3" r="3.3" fill="none" stroke="#000000" stroke-width="1.0"/><circle cx="62.59" cy="152.3" r="3.3" fill="none" stroke="#000000" stroke-width="1.0"/><circle cx="75.78" cy="152.3" r="3.3" fill="none" stroke="#000000" stroke-width="1.0"/><circle cx="88.97" cy="152.3" r="3.3" fill="none" stroke="#000000" stroke-width="1.0"/><circle cx="102.16" cy="152.3" r="3.3" fill="none" stroke="#000000" stroke-width="1.0"/><circle cx="115.35" cy="152.3" r="3.3" fill="none" stroke="#000000" stroke-width="1.0"/><circle cx="128.54" cy="152.3" r="3.3" fill="none" stroke="#000000" stroke-width="1.0"/><circle cx="141.73" cy="152.3" r="3.3" fill="none" stroke="#000000" stroke-width="1.0"/><circle cx="154.92" cy="152.3" r="3.3" fill="none" stroke="#000000" stroke-width="1.0"/><circle cx="168.11" cy="152.3" r="3.3" fill="none" stroke="#000000" stroke-width="1.0"/><circle cx="181.3" cy="152.3" r="3.3" fill="none" stroke="#000000" stroke-width="1.0"/><circle cx="194.49" cy="152.3" r="3.3" fill="none" stroke="#000000" stroke-width="1.0"/><circle cx="207.68" cy="152.3" r="3.3" fill="none" stroke="#000000" stroke-width="1.0"/><circle cx="220.87" cy="152.3" r="3.3" fill="none" stroke="#000000" stroke-width="1.0"/><circle cx="234.06" cy="152.3" r="3.3" fill="none" stroke="#000000" stroke-width="1.0"/><circle cx="247.25" cy="154.03" r="3.3" fill="none" stroke="#000000" stroke-width="1.0"/><circle cx="260.44" cy="157.59" r="3.3" fill="none" stroke="#000000" stroke-width="1.0"/><circle cx="273.63" cy="166.06" r="3.3" fill="none" stroke="#000000" stroke-width="1.0"/><circle cx="286.82" cy="179.32" r="3.3" fill="none" stroke="#000000" stroke-width="1.0"/><circle cx="300.01" cy="192.51" r="3.3" fill="none" stroke="#000000" stroke-width="1.0"/><circle cx="313.2" cy="203.95" r="3.3" fill="none" stroke="#000000" stroke-width="1.0"/><circle cx="326.39" cy="210.68" r="3.3" fill="none" stroke="#000000" stroke-width="1.0"/><circle cx="339.58" cy="214.58" r="3.3" fill="none" stroke="#000000" stroke-width="1.0"/><circle cx="352.77" cy="218.29" r="3.3" fill="none" stroke="#000000" stroke-width="1.0"/><circle cx="365.96" cy="223.28" r="3.3" fill="none" stroke="#000000" stroke-width="1.0"/>
</g>
<g>
<polyline points="40.2,296.5 41.2,296.5 42.2,296.5 43.2,296.5 44.2,296.5 45.2,296.5 46.2,296.5 47.2,296.5 48.2,296.5 49.2,296.5 50.2,296.5 51.2,296.5 52.2,296.5 53.2,296.5 54.2,296.5 55.2,296.5 56.2,296.5 57.2,296.5 58.2,296.5 59.2,296.5 60.2,296.5 61.2,296.5 62.2,296.5 63.2,296.5 64.2,296.5 65.2,296.5 66.2,296.5 67.2,296.5 68.2,296.5 69.2,296.5 70.2,296.5 71.2,296.5 72.2,296.5 73.2,296.5 74.2,296.5 75.2,296.5 76.2,296.5 77.2,296.5 78.2,296.5 79.2,296.5 80.2,296.5 81.2,296.5 82.2,296.5 83.2,296.5 84.2,296.5 85.2,296.5 86.2,296.5 87.2,296.5 88.2,296.5 89.2,296.5 90.2,296.5 91.2,296.5 92.2,296.5 93.2,296.5 94.2,296.5 95.2,296.5 96.2,296.5 97.2,296.5 98.2,296.5 99.2,296.5 100.2,296.5 101.2,296.5 102.2,296.5 103.2,296.5 104.2,296.5 105.2,296.5 106.2,296.5 107.2,296.5 108.2,296.5 109.2,296.5 110.2,296.5 111.2,296.5 112.2,296.5 113.2,296.5 114.2,296.5 115.2,296.5 116.2,296.5 117.2,296.5 118.2,296.5 119.2,296.5 120.2,296.5 121.2,296.5 122.2,296.5 123.2,296.5 124.2,296.5 125.2,296.5 126.2,296.5 127.2,296.5 128.2,296.5 129.2,296.5 130.2,296.5 131.2,296.5 132.2,296.5 133.2,296.5 134.2,296.5 135.2,296.5 136.2,296.5 137.2,296.5 138.2,296.5 139.2,296.5 140.2,296.5 141.2,296.51 142.2,296.54 143.2,296.58 144.2,296.63 145.2,296.7 146.2,296.77 147.2,296.85 148.2,296.93 149.2,297.02 150.2,297.12 151.2,297.22 152.2,297.31 153.2,297.41 154.2,297.5 155.2,297.6 156.2,297.68 157.2,297.77 158.2,297.85 159.2,297.92 160.2,298 161.2,298.08 162.2,298.16 163.2,298.24 164.2,298.33 165.2,298.42 166.2,298.51 167.2,298.61 168.2,298.72 169.2,298.83 170.2,298.95 171.2,299.09 172.2,299.23 173.2,299.4 174.2,299.59 175.2,299.81 176.2,300.05 177.2,300.31 178.2,300.6 179.2,300.9 180.2,301.22 181.2,301.56 182.2,301.91 183.2,302.28 184.2,302.65 185.2,303.04 186.2,303.44 187.2,303.84 188.2,304.25 189.2,304.69 190.2,305.17 191.2,305.67 192.2,306.2 193.2,306.76 194.2,307.34 195.2,307.94 196.2,308.56 197.2,309.21 198.2,309.87 199.2,310.54 200.2,311.24 201.2,311.94 202.2,312.66 203.2,313.38 204.2,314.12 205.2,314.9 206.2,315.72 207.2,316.57 208.2,317.45 209.2,318.36 210.2,319.29 211.2,320.24 212.2,321.21 213.2,322.2 214.2,323.2 215.2,324.2 216.2,325.25 217.2,326.34 218.2,327.46 219.2,328.61 220.2,329.78 221.2,330.98 222.2,332.18 223.2,333.4 224.2,334.61 225.2,335.82 226.2,337.02 227.2,338.2 228.2,339.36 229.2,340.49 230.2,341.59 231.2,342.67 232.2,343.73 233.2,344.79 234.2,345.84 235.2,346.89 236.2,347.92 237.2,348.95 238.2,349.97 239.2,350.97 240.2,351.97 241.2,352.96 242.2,353.93 243.2,354.9 244.2,355.85 245.2,356.79 246.2,357.72 247.2,358.63 248.2,359.55 249.2,360.46 250.2,361.36 251.2,362.26 252.2,363.14 253.2,364.02 254.2,364.88 255.2,365.74 256.2,366.57 257.2,367.39 258.2,368.2 259.2,368.98 260.2,369.75 261.2,370.49 262.2,371.21 263.2,371.92 264.2,372.63 265.2,373.32 266.2,374 267.2,374.67 268.2,375.32 269.2,375.97 270.2,376.6 271.2,377.21 272.2,377.81 273.2,378.4 274.2,378.96 275.2,379.51 276.2,380.04 277.2,380.55 278.2,381.04 279.2,381.53 280.2,382.01 281.2,382.48 282.2,382.93 283.2,383.38 284.2,383.82 285.2,384.24 286.2,384.66 287.2,385.06 288.2,385.44 289.2,385.81 290.2,386.17 291.2,386.5 292.2,386.83 293.2,387.13 294.2,387.42 295.2,387.7 296.2,387.97 297.2,388.22 298.2,388.47 299.2,388.71 300.2,388.95 301.2,389.17 302.2,389.39 303.2,389.61 304.2,389.82 305.2,390.02 306.2,390.22 307.2,390.42 308.2,390.62 309.2,390.82 310.2,391.01 311.2,391.2 312.2,391.39 313.2,391.58 314.2,391.76 315.2,391.94 316.2,392.12 317.2,392.29 318.2,392.46 319.2,392.63 320.2,392.79 321.2,392.94 322.2,393.09 323.2,393.24 324.2,393.38 325.2,393.51 326.2,393.65 327.2,393.79 328.2,393.92 329.2,394.06 330.2,394.2 331.2,394.34 332.2,394.47 333.2,394.59 334.2,394.71 335.2,394.82 336.2,394.92 337.2,395.01 338.2,395.08 339.2,395.14 340.2,395.18 341.2,395.21 342.2,395.23 343.2,395.25 344.2,395.26 345.2,395.27 346.2,395.28 347.2,395.29 348.2,395.3 349.2,395.31 350.2,395.31 351.2,395.32 352.2,395.33 353.2,395.35 354.2,395.36 355.2,395.37 356.2,395.39 357.2,395.42 358.2,395.45 359.2,395.49 360.2,395.54 361.2,395.6 362.2,395.66 363.2,395.73 364.2,395.8 365.2,395.88 366.2,395.97 367.2,396.06 368.2,396.15 369.2,396.24 370.2,396.34 371.2,396.44 371.8,396.5" fill="none" stroke="#00ff00" stroke-width="1.2" stroke-linejoin="round"/>
<polyline points="40.2,296.5 41.2,296.5 42.2,296.5 43.2,296.5 44.2,296.5 45.2,296.5 46.2,296.5 47.2,296.5 48.2,296.5 49.2,296.5 50.2,296.5 51.2,296.5 52.2,296.5 53.2,296.5 54.2,296.5 55.2,296.5 56.2,296.5 57.2,296.5 58.2,296.5 59.2,296.5 60.2,296.5 61.2,296.5 62.2,296.5 63.2,296.5 64.2,296.5 65.2,296.5 66.2,296.5 67.2,296.5 68.2,296.5 69.2,296.5 70.2,296.5 71.2,296.5 72.2,296.5 73.2,296.5 74.2,296.5 75.2,296.5 76.2,296.5 77.2,296.5 78.2,296.5 79.2,296.5 80.2,296.5 81.2,296.5 82.2,296.5 83.2,296.5 84.2,296.5 85.2,296.5 86.2,296.5 87.2,296.5 88.2,296.5 89.2,296.5 90.2,296.5 91.2,296.5 92.2,296.5 93.2,296.5 94.2,296.5 95.2,296.5 96.2,296.5 97.2,296.5 98.2,296.5 99.2,296.5 100.2,296.5 101.2,296.5 102.2,296.5 103.2,296.5 104.2,296.5 105.2,296.5 106.2,296.5 107.2,296.5 108.2,296.5 109.2,296.5 110.2,296.5 111.2,296.5 112.2,296.5 113.2,296.5 114.2,296.5 115.2,296.5 116.2,296.5 117.2,296.5 118.2,296.5 119.2,296.5 120.2,296.5 121.2,296.5 122.2,296.5 123.2,296.5 124.2,296.5 125.2,296.5 126.2,296.5 127.2,296.5 128.2,296.5 129.2,296.5 130.2,296.5 131.2,296.5 132.2,296.5 133.2,296.5 134.2,296.5 135.2,296.5 136.2,296.5 137.2,296.5 138.2,296.5 139.2,296.5 140.2,296.5 141.2,296.51 142.2,296.53 143.2,296.56 144.2,296.59 145.2,296.64 146.2,296.69 147.2,296.75 148.2,296.82 149.2,296.9 150.2,296.98 151.2,297.06 152.2,297.15 153.2,297.25 154.2,297.35 155.2,297.45 156.2,297.56 157.2,297.67 158.2,297.78 159.2,297.89 160.2,298.01 161.2,298.12 162.2,298.23 163.2,298.36 164.2,298.5 165.2,298.65 166.2,298.81 167.2,298.99 168.2,299.17 169.2,299.37 170.2,299.57 171.2,299.79 172.2,300.01 173.2,300.24 174.2,300.48 175.2,300.72 176.2,300.97 177.2,301.22 178.2,301.48 179.2,301.76 180.2,302.05 181.2,302.35 182.2,302.67 183.2,303 184.2,303.35 185.2,303.71 186.2,304.08 187.2,304.47 188.2,304.87 189.2,305.28 190.2,305.7 191.2,306.14 192.2,306.59 193.2,307.05 194.2,307.53 195.2,308.03 196.2,308.57 197.2,309.12 198.2,309.7 199.2,310.3 200.2,310.93 201.2,311.57 202.2,312.23 203.2,312.91 204.2,313.61 205.2,314.33 206.2,315.06 207.2,315.81 208.2,316.57 209.2,317.34 210.2,318.14 211.2,318.99 212.2,319.88 213.2,320.81 214.2,321.77 215.2,322.76 216.2,323.77 217.2,324.8 218.2,325.85 219.2,326.91 220.2,327.98 221.2,329.04 222.2,330.1 223.2,331.16 224.2,332.2 225.2,333.23 226.2,334.27 227.2,335.31 228.2,336.35 229.2,337.4 230.2,338.45 231.2,339.51 232.2,340.58 233.2,341.65 234.2,342.72 235.2,343.81 236.2,344.89 237.2,345.99 238.2,347.09 239.2,348.2 240.2,349.31 241.2,350.44 242.2,351.61 243.2,352.82 244.2,354.06 245.2,355.33 246.2,356.62 247.2,357.91 248.2,359.2 249.2,360.48 250.2,361.73 251.2,362.95 252.2,364.13 253.2,365.25 254.2,366.32 255.2,367.31 256.2,368.23 257.2,369.07 258.2,369.87 259.2,370.63 260.2,371.37 261.2,372.07 262.2,372.75 263.2,373.4 264.2,374.04 265.2,374.67 266.2,375.28 267.2,375.88 268.2,376.49 269.2,377.09 270.2,377.69 271.2,378.3 272.2,378.93 273.2,379.56 274.2,380.21 275.2,380.86 276.2,381.52 277.2,382.18 278.2,382.83 279.2,383.47 280.2,384.1 281.2,384.72 282.2,385.31 283.2,385.88 284.2,386.42 285.2,386.93 286.2,387.4 287.2,387.84 288.2,388.23 289.2,388.61 290.2,388.97 291.2,389.31 292.2,389.64 293.2,389.96 294.2,390.26 295.2,390.55 296.2,390.83 297.2,391.11 298.2,391.37 299.2,391.63 300.2,391.89 301.2,392.14 302.2,392.38 303.2,392.62 304.2,392.86 305.2,393.1 306.2,393.33 307.2,393.55 308.2,393.78 309.2,393.99 310.2,394.2 311.2,394.41 312.2,394.61 313.2,394.8 314.2,394.99 315.2,395.18 316.2,395.36 317.2,395.53 318.2,395.7 319.2,395.86 320.2,396.02 321.2,396.18 322.2,396.33 323.2,396.48 324.2,396.63 325.2,396.77 326.2,396.91 327.2,397.05 328.2,397.18 329.2,397.31 330.2,397.44 331.2,397.57 332.2,397.69 333.2,397.81 334.2,397.93 335.2,398.05 336.2,398.17 337.2,398.28 338.2,398.4 339.2,398.51 340.2,398.62 341.2,398.73 342.2,398.84 343.2,398.94 344.2,399.04 345.2,399.15 346.2,399.24 347.2,399.34 348.2,399.43 349.2,399.53 350.2,399.61 351.2,399.7 352.2,399.78 353.2,399.86 354.2,399.94 355.2,400.02 356.2,400.1 357.2,400.18 358.2,400.25 359.2,400.32 360.2,400.39 361.2,400.46 362.2,400.53 363.2,400.59 364.2,400.65 365.2,400.71 366.2,400.76 367.2,400.81 368.2,400.86 369.2,400.9 370.2,400.94 371.2,400.98 371.8,401" fill="none" stroke="#008b00" stroke-width="1.5" stroke-linejoin="round"/>
<path d="M36.2 296.5L40.3 292.4L44.4 296.5L40.3 300.6Z" fill="none" stroke="#00ff00" stroke-width="1.0"/>
<path d="M51.76 296.5L55.86 292.4L59.96 296.5L55.86 300.6Z" fill="none" stroke="#00ff00" stroke-width="1.0"/>
<path d="M67.62 296.5L71.72 292.4L75.82 296.5L71.72 300.6Z" fill="none" stroke="#00ff00" stroke-width="1.0"/>
<path d="M83.48 296.5L87.58 292.4L91.68 296.5L87.58 300.6Z" fill="none" stroke="#00ff00" stroke-width="1.0"/>
<path d="M99.34 296.5L103.44 292.4L107.54 296.5L103.44 300.6Z" fill="none" stroke="#00ff00" stroke-width="1.0"/>
<path d="M115.2 296.5L119.3 292.4L123.4 296.5L119.3 300.6Z" fill="none" stroke="#00ff00" stroke-width="1.0"/>
<path d="M131.06 296.5L135.16 292.4L139.26 296.5L135.16 300.6Z" fill="none" stroke="#00ff00" stroke-width="1.0"/>
<path d="M146.92 297.2L151.02 293.1L155.12 297.2L151.02 301.3Z" fill="none" stroke="#00ff00" stroke-width="1.0"/>
<path d="M162.78 298.58L166.88 294.48L170.98 298.58L166.88 302.68Z" fill="none" stroke="#00ff00" stroke-width="1.0"/>
<path d="M178.64 302.11L182.74 298.01L186.84 302.11L182.74 306.21Z" fill="none" stroke="#00ff00" stroke-width="1.0"/>
<path d="M194.5 310.14L198.6 306.04L202.7 310.14L198.6 314.24Z" fill="none" stroke="#00ff00" stroke-width="1.0"/>
<path d="M210.36 323.46L214.46 319.36L218.56 323.46L214.46 327.56Z" fill="none" stroke="#00ff00" stroke-width="1.0"/>
<path d="M226.22 341.72L230.32 337.62L234.42 341.72L230.32 345.82Z" fill="none" stroke="#00ff00" stroke-width="1.0"/>
<path d="M242.08 357.7L246.18 353.6L250.28 357.7L246.18 361.8Z" fill="none" stroke="#00ff00" stroke-width="1.0"/>
<path d="M257.94 371.1L262.04 367L266.14 371.1L262.04 375.2Z" fill="none" stroke="#00ff00" stroke-width="1.0"/>
<path d="M273.8 380.9L277.9 376.8L282 380.9L277.9 385Z" fill="none" stroke="#00ff00" stroke-width="1.0"/>
<path d="M289.66 387.29L293.76 383.19L297.86 387.29L293.76 391.39Z" fill="none" stroke="#00ff00" stroke-width="1.0"/>
<path d="M305.52 390.9L309.62 386.8L313.72 390.9L309.62 395Z" fill="none" stroke="#00ff00" stroke-width="1.0"/>
<path d="M321.38 393.55L325.48 389.45L329.58 393.55L325.48 397.65Z" fill="none" stroke="#00ff00" stroke-width="1.0"/>
<path d="M337.24 395.21L341.34 391.11L345.44 395.21L341.34 399.31Z" fill="none" stroke="#00ff00" stroke-width="1.0"/>
<path d="M353.1 395.42L357.2 391.32L361.3 395.42L357.2 399.52Z" fill="none" stroke="#00ff00" stroke-width="1.0"/>
<path d="M46.7 296.5L53 292.86L53 300.14Z" fill="none" stroke="#008b00" stroke-width="1.0"/>
<path d="M62.56 296.5L68.86 292.86L68.86 300.14Z" fill="none" stroke="#008b00" stroke-width="1.0"/>
<path d="M78.42 296.5L84.72 292.86L84.72 300.14Z" fill="none" stroke="#008b00" stroke-width="1.0"/>
<path d="M94.28 296.5L100.58 292.86L100.58 300.14Z" fill="none" stroke="#008b00" stroke-width="1.0"/>
<path d="M110.14 296.5L116.44 292.86L116.44 300.14Z" fill="none" stroke="#008b00" stroke-width="1.0"/>
<path d="M126 296.5L132.3 292.86L132.3 300.14Z" fill="none" stroke="#008b00" stroke-width="1.0"/>
<path d="M141.86 296.68L148.16 293.05L148.16 300.32Z" fill="none" stroke="#008b00" stroke-width="1.0"/>
<path d="M157.72 298.2L164.02 294.57L164.02 301.84Z" fill="none" stroke="#008b00" stroke-width="1.0"/>
<path d="M173.58 301.37L179.88 297.74L179.88 305.01Z" fill="none" stroke="#008b00" stroke-width="1.0"/>
<path d="M189.44 307.26L195.74 303.62L195.74 310.89Z" fill="none" stroke="#008b00" stroke-width="1.0"/>
<path d="M205.3 317.58L211.6 313.94L211.6 321.22Z" fill="none" stroke="#008b00" stroke-width="1.0"/>
<path d="M221.16 333.39L227.46 329.76L227.46 337.03Z" fill="none" stroke="#008b00" stroke-width="1.0"/>
<path d="M237.02 350.46L243.32 346.83L243.32 354.1Z" fill="none" stroke="#008b00" stroke-width="1.0"/>
<path d="M252.88 368.97L259.18 365.33L259.18 372.61Z" fill="none" stroke="#008b00" stroke-width="1.0"/>
<path d="M268.74 379.39L275.04 375.76L275.04 383.03Z" fill="none" stroke="#008b00" stroke-width="1.0"/>
<path d="M284.6 388.46L290.9 384.82L290.9 392.1Z" fill="none" stroke="#008b00" stroke-width="1.0"/>
<path d="M300.46 392.97L306.76 389.34L306.76 396.61Z" fill="none" stroke="#008b00" stroke-width="1.0"/>
<path d="M316.32 396.07L322.62 392.44L322.62 399.71Z" fill="none" stroke="#008b00" stroke-width="1.0"/>
<path d="M332.18 398.19L338.48 394.55L338.48 401.83Z" fill="none" stroke="#008b00" stroke-width="1.0"/>
<path d="M348.04 399.79L354.34 396.15L354.34 403.42Z" fill="none" stroke="#008b00" stroke-width="1.0"/>
<path d="M363.9 400.85L370.2 397.22L370.2 404.49Z" fill="none" stroke="#008b00" stroke-width="1.0"/>
<path d="M43.7 292.3L47.34 298.6L40.06 298.6Z" fill="none" stroke="#0000ff" stroke-width="1.0"/>
<path d="M59.56 292.3L63.2 298.6L55.92 298.6Z" fill="none" stroke="#0000ff" stroke-width="1.0"/>
<path d="M75.42 292.3L79.06 298.6L71.78 298.6Z" fill="none" stroke="#0000ff" stroke-width="1.0"/>
<path d="M91.28 292.3L94.92 298.6L87.64 298.6Z" fill="none" stroke="#0000ff" stroke-width="1.0"/>
<path d="M107.14 292.3L110.78 298.6L103.5 298.6Z" fill="none" stroke="#0000ff" stroke-width="1.0"/>
<path d="M123 292.3L126.64 298.6L119.36 298.6Z" fill="none" stroke="#0000ff" stroke-width="1.0"/>
<path d="M138.86 292.3L142.5 298.6L135.22 298.6Z" fill="none" stroke="#0000ff" stroke-width="1.0"/>
<path d="M154.72 293.44L158.36 299.74L151.08 299.74Z" fill="none" stroke="#0000ff" stroke-width="1.0"/>
<path d="M170.58 294.9L174.22 301.2L166.94 301.2Z" fill="none" stroke="#0000ff" stroke-width="1.0"/>
<path d="M186.44 299.52L190.08 305.82L182.8 305.82Z" fill="none" stroke="#0000ff" stroke-width="1.0"/>
<path d="M201.7 308.47L205.34 314.77L198.06 314.77Z" fill="none" stroke="#0000ff" stroke-width="1.0"/>
<path d="M217.56 323.03L221.2 329.33L213.92 329.33Z" fill="none" stroke="#0000ff" stroke-width="1.0"/>
<path d="M233.42 340.15L237.06 346.45L229.78 346.45Z" fill="none" stroke="#0000ff" stroke-width="1.0"/>
<path d="M249.28 358.75L252.92 365.05L245.64 365.05Z" fill="none" stroke="#0000ff" stroke-width="1.0"/>
<path d="M265.14 370.5L268.78 376.8L261.5 376.8Z" fill="none" stroke="#0000ff" stroke-width="1.0"/>
<path d="M281 379.38L284.64 385.68L277.36 385.68Z" fill="none" stroke="#0000ff" stroke-width="1.0"/>
<path d="M296.86 384.35L300.5 390.65L293.22 390.65Z" fill="none" stroke="#0000ff" stroke-width="1.0"/>
<path d="M312.72 388L316.36 394.3L309.08 394.3Z" fill="none" stroke="#0000ff" stroke-width="1.0"/>
<path d="M328.58 391.71L332.22 398.01L324.94 398.01Z" fill="none" stroke="#0000ff" stroke-width="1.0"/>
<path d="M344.44 395.45L348.08 401.75L340.8 401.75Z" fill="none" stroke="#0000ff" stroke-width="1.0"/>
<path d="M360.3 396.02L363.94 402.32L356.66 402.32Z" fill="none" stroke="#0000ff" stroke-width="1.0"/>
<rect x="42.2" y="293.4" width="6.2" height="6.2" fill="none" stroke="#ff0000" stroke-width="1.0"/>
<rect x="58.06" y="293.4" width="6.2" height="6.2" fill="none" stroke="#ff0000" stroke-width="1.0"/>
<rect x="73.92" y="293.4" width="6.2" height="6.2" fill="none" stroke="#ff0000" stroke-width="1.0"/>
<rect x="89.78" y="293.4" width="6.2" height="6.2" fill="none" stroke="#ff0000" stroke-width="1.0"/>
<rect x="105.64" y="293.4" width="6.2" height="6.2" fill="none" stroke="#ff0000" stroke-width="1.0"/>
<rect x="121.5" y="293.4" width="6.2" height="6.2" fill="none" stroke="#ff0000" stroke-width="1.0"/>
<rect x="137.36" y="293.4" width="6.2" height="6.2" fill="none" stroke="#ff0000" stroke-width="1.0"/>
<rect x="153.22" y="294.69" width="6.2" height="6.2" fill="none" stroke="#ff0000" stroke-width="1.0"/>
<rect x="169.08" y="296.23" width="6.2" height="6.2" fill="none" stroke="#ff0000" stroke-width="1.0"/>
<rect x="184.94" y="301.29" width="6.2" height="6.2" fill="none" stroke="#ff0000" stroke-width="1.0"/>
<rect x="200.8" y="312.3" width="6.2" height="6.2" fill="none" stroke="#ff0000" stroke-width="1.0"/>
<rect x="216.66" y="327.47" width="6.2" height="6.2" fill="none" stroke="#ff0000" stroke-width="1.0"/>
<rect x="232.52" y="344.63" width="6.2" height="6.2" fill="none" stroke="#ff0000" stroke-width="1.0"/>
<rect x="248.38" y="360.44" width="6.2" height="6.2" fill="none" stroke="#ff0000" stroke-width="1.0"/>
<rect x="264.24" y="371.66" width="6.2" height="6.2" fill="none" stroke="#ff0000" stroke-width="1.0"/>
<rect x="280.1" y="380.08" width="6.2" height="6.2" fill="none" stroke="#ff0000" stroke-width="1.0"/>
<rect x="295.96" y="384.72" width="6.2" height="6.2" fill="none" stroke="#ff0000" stroke-width="1.0"/>
<rect x="311.82" y="388.3" width="6.2" height="6.2" fill="none" stroke="#ff0000" stroke-width="1.0"/>
<rect x="327.68" y="392.01" width="6.2" height="6.2" fill="none" stroke="#ff0000" stroke-width="1.0"/>
<rect x="343.54" y="395.43" width="6.2" height="6.2" fill="none" stroke="#ff0000" stroke-width="1.0"/>
<rect x="359.4" y="395.93" width="6.2" height="6.2" fill="none" stroke="#ff0000" stroke-width="1.0"/>
<circle cx="45.3" cy="296.5" r="3.3" fill="none" stroke="#000000" stroke-width="1.0"/>
<circle cx="61.16" cy="296.5" r="3.3" fill="none" stroke="#000000" stroke-width="1.0"/>
<circle cx="77.02" cy="296.5" r="3.3" fill="none" stroke="#000000" stroke-width="1.0"/>
<circle cx="92.88" cy="296.5" r="3.3" fill="none" stroke="#000000" stroke-width="1.0"/>
<circle cx="108.74" cy="296.5" r="3.3" fill="none" stroke="#000000" stroke-width="1.0"/>
<circle cx="124.6" cy="296.5" r="3.3" fill="none" stroke="#000000" stroke-width="1.0"/>
<circle cx="140.46" cy="296.5" r="3.3" fill="none" stroke="#000000" stroke-width="1.0"/>
<circle cx="156.32" cy="297.79" r="3.3" fill="none" stroke="#000000" stroke-width="1.0"/>
<circle cx="172.18" cy="299.33" r="3.3" fill="none" stroke="#000000" stroke-width="1.0"/>
<circle cx="188.04" cy="304.39" r="3.3" fill="none" stroke="#000000" stroke-width="1.0"/>
<circle cx="203.9" cy="314.3" r="3.3" fill="none" stroke="#000000" stroke-width="1.0"/>
<circle cx="219.76" cy="329.47" r="3.3" fill="none" stroke="#000000" stroke-width="1.0"/>
<circle cx="235.62" cy="346.63" r="3.3" fill="none" stroke="#000000" stroke-width="1.0"/>
<circle cx="251.48" cy="362.04" r="3.3" fill="none" stroke="#000000" stroke-width="1.0"/>
<circle cx="267.34" cy="373.26" r="3.3" fill="none" stroke="#000000" stroke-width="1.0"/>
<circle cx="283.2" cy="381.68" r="3.3" fill="none" stroke="#000000" stroke-width="1.0"/>
<circle cx="299.06" cy="386.32" r="3.3" fill="none" stroke="#000000" stroke-width="1.0"/>
<circle cx="314.92" cy="389.9" r="3.3" fill="none" stroke="#000000" stroke-width="1.0"/>
<circle cx="330.78" cy="393.61" r="3.3" fill="none" stroke="#000000" stroke-width="1.0"/>
<circle cx="346.64" cy="397.03" r="3.3" fill="none" stroke="#000000" stroke-width="1.0"/>
</g>
<g stroke="#000" fill="none" stroke-width="1.2">
<rect x="40.2" y="1.3" width="331.6" height="236.6"/>
<path d="M40.2 119.9H371.8"/>
<rect x="40.2" y="286.7" width="331.6" height="117.3"/>
</g>
<path d="M56.84 1.3V4.8M66.57 1.3V4.8M73.47 1.3V4.8M78.83 1.3V4.8M83.21 1.3V4.8M86.91 1.3V4.8M90.11 1.3V4.8M92.94 1.3V4.8M95.47 1.3V8.3M112.1 1.3V4.8M121.84 1.3V4.8M128.74 1.3V4.8M134.1 1.3V4.8M138.47 1.3V4.8M142.17 1.3V4.8M145.38 1.3V4.8M148.2 1.3V4.8M150.73 1.3V8.3M167.37 1.3V4.8M177.1 1.3V4.8M184.01 1.3V4.8M189.36 1.3V4.8M193.74 1.3V4.8M197.44 1.3V4.8M200.64 1.3V4.8M203.47 1.3V4.8M206 1.3V8.3M222.64 1.3V4.8M232.37 1.3V4.8M239.27 1.3V4.8M244.63 1.3V4.8M249.01 1.3V4.8M252.71 1.3V4.8M255.91 1.3V4.8M258.74 1.3V4.8M261.27 1.3V8.3M277.9 1.3V4.8M287.64 1.3V4.8M294.54 1.3V4.8M299.9 1.3V4.8M304.27 1.3V4.8M307.97 1.3V4.8M311.18 1.3V4.8M314 1.3V4.8M316.53 1.3V8.3M333.17 1.3V4.8M342.9 1.3V4.8M349.81 1.3V4.8M355.16 1.3V4.8M359.54 1.3V4.8M363.24 1.3V4.8M366.44 1.3V4.8M369.27 1.3V4.8M56.84 119.9V116.4M66.57 119.9V116.4M73.47 119.9V116.4M78.83 119.9V116.4M83.21 119.9V116.4M86.91 119.9V116.4M90.11 119.9V116.4M92.94 119.9V116.4M95.47 119.9V112.9M112.1 119.9V116.4M121.84 119.9V116.4M128.74 119.9V116.4M134.1 119.9V116.4M138.47 119.9V116.4M142.17 119.9V116.4M145.38 119.9V116.4M148.2 119.9V116.4M150.73 119.9V112.9M167.37 119.9V116.4M177.1 119.9V116.4M184.01 119.9V116.4M189.36 119.9V116.4M193.74 119.9V116.4M197.44 119.9V116.4M200.64 119.9V116.4M203.47 119.9V116.4M206 119.9V112.9M222.64 119.9V116.4M232.37 119.9V116.4M239.27 119.9V116.4M244.63 119.9V116.4M249.01 119.9V116.4M252.71 119.9V116.4M255.91 119.9V116.4M258.74 119.9V116.4M261.27 119.9V112.9M277.9 119.9V116.4M287.64 119.9V116.4M294.54 119.9V116.4M299.9 119.9V116.4M304.27 119.9V116.4M307.97 119.9V116.4M311.18 119.9V116.4M314 119.9V116.4M316.53 119.9V112.9M333.17 119.9V116.4M342.9 119.9V116.4M349.81 119.9V116.4M355.16 119.9V116.4M359.54 119.9V116.4M363.24 119.9V116.4M366.44 119.9V116.4M369.27 119.9V116.4M40.2 111.99H44.9M40.2 104.09H44.9M40.2 96.18H44.9M40.2 88.27H44.9M40.2 80.37H44.9M40.2 72.46H49.6M40.2 64.55H44.9M40.2 56.65H44.9M40.2 48.74H44.9M40.2 40.83H44.9M40.2 32.93H44.9M40.2 25.02H49.6M40.2 17.11H44.9M40.2 9.21H44.9M371.8 111.99H367.1M371.8 104.09H367.1M371.8 96.18H367.1M371.8 88.27H367.1M371.8 80.37H367.1M371.8 72.46H362.4M371.8 64.55H367.1M371.8 56.65H367.1M371.8 48.74H367.1M371.8 40.83H367.1M371.8 32.93H367.1M371.8 25.02H362.4M371.8 17.11H367.1M371.8 9.21H367.1M56.84 119.9V123.4M66.57 119.9V123.4M73.47 119.9V123.4M78.83 119.9V123.4M83.21 119.9V123.4M86.91 119.9V123.4M90.11 119.9V123.4M92.94 119.9V123.4M95.47 119.9V126.9M112.1 119.9V123.4M121.84 119.9V123.4M128.74 119.9V123.4M134.1 119.9V123.4M138.47 119.9V123.4M142.17 119.9V123.4M145.38 119.9V123.4M148.2 119.9V123.4M150.73 119.9V126.9M167.37 119.9V123.4M177.1 119.9V123.4M184.01 119.9V123.4M189.36 119.9V123.4M193.74 119.9V123.4M197.44 119.9V123.4M200.64 119.9V123.4M203.47 119.9V123.4M206 119.9V126.9M222.64 119.9V123.4M232.37 119.9V123.4M239.27 119.9V123.4M244.63 119.9V123.4M249.01 119.9V123.4M252.71 119.9V123.4M255.91 119.9V123.4M258.74 119.9V123.4M261.27 119.9V126.9M277.9 119.9V123.4M287.64 119.9V123.4M294.54 119.9V123.4M299.9 119.9V123.4M304.27 119.9V123.4M307.97 119.9V123.4M311.18 119.9V123.4M314 119.9V123.4M316.53 119.9V126.9M333.17 119.9V123.4M342.9 119.9V123.4M349.81 119.9V123.4M355.16 119.9V123.4M359.54 119.9V123.4M363.24 119.9V123.4M366.44 119.9V123.4M369.27 119.9V123.4M56.84 237.9V234.4M66.57 237.9V234.4M73.47 237.9V234.4M78.83 237.9V234.4M83.21 237.9V234.4M86.91 237.9V234.4M90.11 237.9V234.4M92.94 237.9V234.4M95.47 237.9V230.9M112.1 237.9V234.4M121.84 237.9V234.4M128.74 237.9V234.4M134.1 237.9V234.4M138.47 237.9V234.4M142.17 237.9V234.4M145.38 237.9V234.4M148.2 237.9V234.4M150.73 237.9V230.9M167.37 237.9V234.4M177.1 237.9V234.4M184.01 237.9V234.4M189.36 237.9V234.4M193.74 237.9V234.4M197.44 237.9V234.4M200.64 237.9V234.4M203.47 237.9V234.4M206 237.9V230.9M222.64 237.9V234.4M232.37 237.9V234.4M239.27 237.9V234.4M244.63 237.9V234.4M249.01 237.9V234.4M252.71 237.9V234.4M255.91 237.9V234.4M258.74 237.9V234.4M261.27 237.9V230.9M277.9 237.9V234.4M287.64 237.9V234.4M294.54 237.9V234.4M299.9 237.9V234.4M304.27 237.9V234.4M307.97 237.9V234.4M311.18 237.9V234.4M314 237.9V234.4M316.53 237.9V230.9M333.17 237.9V234.4M342.9 237.9V234.4M349.81 237.9V234.4M355.16 237.9V234.4M359.54 237.9V234.4M363.24 237.9V234.4M366.44 237.9V234.4M369.27 237.9V234.4M40.2 231.37H44.9M40.2 224.83H44.9M40.2 218.3H44.9M40.2 211.76H44.9M40.2 205.23H44.9M40.2 198.7H49.6M40.2 192.16H44.9M40.2 185.63H44.9M40.2 179.1H44.9M40.2 172.56H44.9M40.2 166.03H44.9M40.2 159.49H49.6M40.2 152.96H44.9M40.2 146.43H44.9M40.2 139.89H44.9M40.2 133.36H44.9M40.2 126.83H44.9M371.8 231.37H367.1M371.8 224.83H367.1M371.8 218.3H367.1M371.8 211.76H367.1M371.8 205.23H367.1M371.8 198.7H362.4M371.8 192.16H367.1M371.8 185.63H367.1M371.8 179.1H367.1M371.8 172.56H367.1M371.8 166.03H367.1M371.8 159.49H362.4M371.8 152.96H367.1M371.8 146.43H367.1M371.8 139.89H367.1M371.8 133.36H367.1M371.8 126.83H367.1M60.16 286.7V291.3M71.84 286.7V291.3M80.13 286.7V291.3M86.56 286.7V291.3M91.81 286.7V291.3M96.25 286.7V291.3M100.09 286.7V291.3M103.49 286.7V291.3M106.52 286.7V295.7M126.48 286.7V291.3M138.16 286.7V291.3M146.45 286.7V291.3M152.88 286.7V291.3M158.13 286.7V291.3M162.57 286.7V291.3M166.41 286.7V291.3M169.81 286.7V291.3M172.84 286.7V295.7M192.8 286.7V291.3M204.48 286.7V291.3M212.77 286.7V291.3M219.2 286.7V291.3M224.45 286.7V291.3M228.89 286.7V291.3M232.73 286.7V291.3M236.13 286.7V291.3M239.16 286.7V295.7M259.12 286.7V291.3M270.8 286.7V291.3M279.09 286.7V291.3M285.52 286.7V291.3M290.77 286.7V291.3M295.21 286.7V291.3M299.05 286.7V291.3M302.45 286.7V291.3M305.48 286.7V295.7M325.44 286.7V291.3M337.12 286.7V291.3M345.41 286.7V291.3M351.84 286.7V291.3M357.09 286.7V291.3M361.53 286.7V291.3M365.37 286.7V291.3M368.77 286.7V291.3M60.16 404V399.4M71.84 404V399.4M80.13 404V399.4M86.56 404V399.4M91.81 404V399.4M96.25 404V399.4M100.09 404V399.4M103.49 404V399.4M106.52 404V395M126.48 404V399.4M138.16 404V399.4M146.45 404V399.4M152.88 404V399.4M158.13 404V399.4M162.57 404V399.4M166.41 404V399.4M169.81 404V399.4M172.84 404V395M192.8 404V399.4M204.48 404V399.4M212.77 404V399.4M219.2 404V399.4M224.45 404V399.4M228.89 404V399.4M232.73 404V399.4M236.13 404V399.4M239.16 404V395M259.12 404V399.4M270.8 404V399.4M279.09 404V399.4M285.52 404V399.4M290.77 404V399.4M295.21 404V399.4M299.05 404V399.4M302.45 404V399.4M305.48 404V395M325.44 404V399.4M337.12 404V399.4M345.41 404V399.4M351.84 404V399.4M357.09 404V399.4M361.53 404V399.4M365.37 404V399.4M368.77 404V399.4M40.2 395.04H44.9M40.2 386.07H44.9M40.2 377.11H44.9M40.2 368.14H44.9M40.2 359.18H44.9M40.2 350.22H49.6M40.2 341.25H44.9M40.2 332.29H44.9M40.2 323.33H44.9M40.2 314.36H44.9M40.2 305.4H44.9M40.2 296.43H49.6M371.8 395.04H367.1M371.8 386.07H367.1M371.8 377.11H367.1M371.8 368.14H367.1M371.8 359.18H367.1M371.8 350.22H362.4M371.8 341.25H367.1M371.8 332.29H367.1M371.8 323.33H367.1M371.8 314.36H367.1M371.8 305.4H367.1M371.8 296.43H362.4" stroke="#000" stroke-width="1" fill="none"/>
<rect x="293.9" y="3.4" width="73.20000000000005" height="64.89999999999999" fill="#fff" stroke="#333" stroke-width="1"/>
<path d="M302.7 12.2H322.0" stroke="#008b00" stroke-width="2" fill="none"/>
<path d="M298.5 12.2L304.8 8.56L304.8 15.84Z" fill="none" stroke="#008b00" stroke-width="1.0"/>
<path d="M317.8 12.2L324.1 8.56L324.1 15.84Z" fill="none" stroke="#008b00" stroke-width="1.0"/>
<text x="329.9" y="15.6" font-family="Liberation Serif, serif" font-size="10.0" fill="#000">0.2meV</text>
<path d="M302.7 24.3H322.0" stroke="#0000ff" stroke-width="2" fill="none"/>
<path d="M302.7 20.1L306.34 26.4L299.06 26.4Z" fill="none" stroke="#0000ff" stroke-width="1.0"/>
<path d="M322 20.1L325.64 26.4L318.36 26.4Z" fill="none" stroke="#0000ff" stroke-width="1.0"/>
<text x="329.9" y="27.7" font-family="Liberation Serif, serif" font-size="10.0" fill="#000">0.4meV</text>
<path d="M302.7 35.9H322.0" stroke="#00ff00" stroke-width="2" fill="none"/>
<path d="M298.6 35.9L302.7 31.8L306.8 35.9L302.7 40Z" fill="none" stroke="#00ff00" stroke-width="1.0"/>
<path d="M317.9 35.9L322 31.8L326.1 35.9L322 40Z" fill="none" stroke="#00ff00" stroke-width="1.0"/>
<text x="329.9" y="39.3" font-family="Liberation Serif, serif" font-size="10.0" fill="#000">0.6meV</text>
<path d="M302.7 47.7H322.0" stroke="#ff0000" stroke-width="2" fill="none"/>
<rect x="299.6" y="44.6" width="6.2" height="6.2" fill="none" stroke="#ff0000" stroke-width="1.0"/>
<rect x="318.9" y="44.6" width="6.2" height="6.2" fill="none" stroke="#ff0000" stroke-width="1.0"/>
<text x="329.9" y="51.1" font-family="Liberation Serif, serif" font-size="10.0" fill="#000">0.8meV</text>
<path d="M302.7 59.5H322.0" stroke="#000000" stroke-width="2" fill="none"/>
<circle cx="302.7" cy="59.5" r="3.3" fill="none" stroke="#000000" stroke-width="1.0"/>
<circle cx="322" cy="59.5" r="3.3" fill="none" stroke="#000000" stroke-width="1.0"/>
<text x="329.9" y="62.9" font-family="Liberation Serif, serif" font-size="10.0" fill="#000">1.0meV</text>
<text x="35.7" y="29.35" font-family="Liberation Serif, serif" font-size="12.5" text-anchor="end" fill="#000" >4</text>
<text x="35.7" y="76.25" font-family="Liberation Serif, serif" font-size="12.5" text-anchor="end" fill="#000" >2</text>
<text x="35.7" y="124.25" font-family="Liberation Serif, serif" font-size="12.5" text-anchor="end" fill="#000" >0</text>
<text x="35.7" y="163.85" font-family="Liberation Serif, serif" font-size="12.5" text-anchor="end" fill="#000" >2</text>
<text x="35.7" y="203.05" font-family="Liberation Serif, serif" font-size="12.5" text-anchor="end" fill="#000" >1</text>
<text x="35.7" y="242.25" font-family="Liberation Serif, serif" font-size="12.5" text-anchor="end" fill="#000" >0</text>
<text x="35.7" y="300.75" font-family="Liberation Serif, serif" font-size="12.5" text-anchor="end" fill="#000" >1</text>
<text x="35.7" y="354.55" font-family="Liberation Serif, serif" font-size="12.5" text-anchor="end" fill="#000" >0.5</text>
<text x="35.7" y="408.35" font-family="Liberation Serif, serif" font-size="12.5" text-anchor="end" fill="#000" >0</text>
<text x="30.85" y="257.2" font-family="Liberation Serif, serif" font-size="12.0" text-anchor="start" fill="#000" >10</text><text x="42.85" y="250" font-family="Liberation Serif, serif" font-size="7.8" text-anchor="start" fill="#000" >-4</text>
<text x="86.12" y="257.2" font-family="Liberation Serif, serif" font-size="12.0" text-anchor="start" fill="#000" >10</text><text x="98.12" y="250" font-family="Liberation Serif, serif" font-size="7.8" text-anchor="start" fill="#000" >-3</text>
<text x="141.38" y="257.2" font-family="Liberation Serif, serif" font-size="12.0" text-anchor="start" fill="#000" >10</text><text x="153.38" y="250" font-family="Liberation Serif, serif" font-size="7.8" text-anchor="start" fill="#000" >-2</text>
<text x="196.65" y="257.2" font-family="Liberation Serif, serif" font-size="12.0" text-anchor="start" fill="#000" >10</text><text x="208.65" y="250" font-family="Liberation Serif, serif" font-size="7.8" text-anchor="start" fill="#000" >-1</text>
<text x="253.92" y="257.2" font-family="Liberation Serif, serif" font-size="12.0" text-anchor="start" fill="#000" >10</text><text x="265.92" y="250" font-family="Liberation Serif, serif" font-size="7.8" text-anchor="start" fill="#000" >0</text>
<text x="309.18" y="257.2" font-family="Liberation Serif, serif" font-size="12.0" text-anchor="start" fill="#000" >10</text><text x="321.18" y="250" font-family="Liberation Serif, serif" font-size="7.8" text-anchor="start" fill="#000" >1</text>
<text x="364.45" y="257.2" font-family="Liberation Serif, serif" font-size="12.0" text-anchor="start" fill="#000" >10</text><text x="376.45" y="250" font-family="Liberation Serif, serif" font-size="7.8" text-anchor="start" fill="#000" >2</text>
<text x="30.75" y="422.5" font-family="Liberation Serif, serif" font-size="12.0" text-anchor="start" fill="#000" >10</text><text x="42.75" y="415.3" font-family="Liberation Serif, serif" font-size="7.8" text-anchor="start" fill="#000" >-3</text>
<text x="97.07" y="422.5" font-family="Liberation Serif, serif" font-size="12.0" text-anchor="start" fill="#000" >10</text><text x="109.07" y="415.3" font-family="Liberation Serif, serif" font-size="7.8" text-anchor="start" fill="#000" >-2</text>
<text x="163.39" y="422.5" font-family="Liberation Serif, serif" font-size="12.0" text-anchor="start" fill="#000" >10</text><text x="175.39" y="415.3" font-family="Liberation Serif, serif" font-size="7.8" text-anchor="start" fill="#000" >-1</text>
<text x="232.51" y="422.5" font-family="Liberation Serif, serif" font-size="12.0" text-anchor="start" fill="#000" >10</text><text x="244.51" y="415.3" font-family="Liberation Serif, serif" font-size="7.8" text-anchor="start" fill="#000" >0</text>
<text x="298.83" y="422.5" font-family="Liberation Serif, serif" font-size="12.0" text-anchor="start" fill="#000" >10</text><text x="310.83" y="415.3" font-family="Liberation Serif, serif" font-size="7.8" text-anchor="start" fill="#000" >1</text>
<text x="365.15" y="422.5" font-family="Liberation Serif, serif" font-size="12.0" text-anchor="start" fill="#000" >10</text><text x="377.15" y="415.3" font-family="Liberation Serif, serif" font-size="7.8" text-anchor="start" fill="#000" >2</text>
<text x="206.4" y="273.2" font-family="Liberation Serif, serif" font-size="17.6" text-anchor="middle" fill="#000" stroke="#000" stroke-width="0.2">T (K)</text>
<text x="186.2" y="435.2" font-family="Liberation Serif, serif" font-size="17.2" text-anchor="start" fill="#000" stroke="#000" stroke-width="0.2">T / T</text><text x="220.2" y="440.9" font-family="Liberation Serif, serif" font-size="12.6" text-anchor="start" fill="#000" >0</text>
<g transform="translate(17.3 89.4) rotate(-90)"><text x="0" y="0" font-family="Liberation Serif, serif" font-size="16.4" fill="#000" stroke="#000" stroke-width="0.2">G(T)/G</text><text x="49.5" y="7.0" font-family="Liberation Serif, serif" font-size="12.8" fill="#000">0</text></g>
<g transform="translate(17.3 206.5) rotate(-90)"><text x="0" y="0" font-family="Liberation Serif, serif" font-size="16.4" fill="#000" stroke="#000" stroke-width="0.2">G(T)/G</text><text x="49.5" y="7.0" font-family="Liberation Serif, serif" font-size="12.8" fill="#000">0</text></g>
<g transform="translate(13.4 390.9) rotate(-90)"><text x="0" y="0" font-family="Liberation Serif, serif" font-size="17.0" fill="#000" stroke="#000" stroke-width="0.2">G(T)/G(T=0)</text></g>
<text x="46.7" y="110.4" font-family="Liberation Serif, serif" font-size="17.2" text-anchor="start" fill="#000" >(a)</text>
<text x="46.7" y="230.2" font-family="Liberation Serif, serif" font-size="17.2" text-anchor="start" fill="#000" >(b)</text>
<text x="46.7" y="394" font-family="Liberation Serif, serif" font-size="17.2" text-anchor="start" fill="#000" >(c)</text>
<text x="333.6" y="89.2" font-family="Liberation Serif, serif" font-size="12.8" text-anchor="start" fill="#000" >N</text><text x="342.9" y="93.7" font-family="Liberation Serif, serif" font-size="9.4" text-anchor="start" fill="#000" >g</text><text x="347.9" y="89.2" font-family="Liberation Serif, serif" font-size="12.6" text-anchor="start" fill="#000" >=2</text>
<text x="333.4" y="194.7" font-family="Liberation Serif, serif" font-size="12.8" text-anchor="start" fill="#000" >N</text><text x="342.7" y="199.2" font-family="Liberation Serif, serif" font-size="9.4" text-anchor="start" fill="#000" >g</text><text x="347.7" y="194.7" font-family="Liberation Serif, serif" font-size="12.6" text-anchor="start" fill="#000" >=1</text>
<text x="333.8" y="374.7" font-family="Liberation Serif, serif" font-size="12.8" text-anchor="start" fill="#000" >N</text><text x="343.1" y="379.2" font-family="Liberation Serif, serif" font-size="9.4" text-anchor="start" fill="#000" >g</text><text x="348.1" y="374.7" font-family="Liberation Serif, serif" font-size="12.6" text-anchor="start" fill="#000" >=2</text>
</svg>
</body></html>
